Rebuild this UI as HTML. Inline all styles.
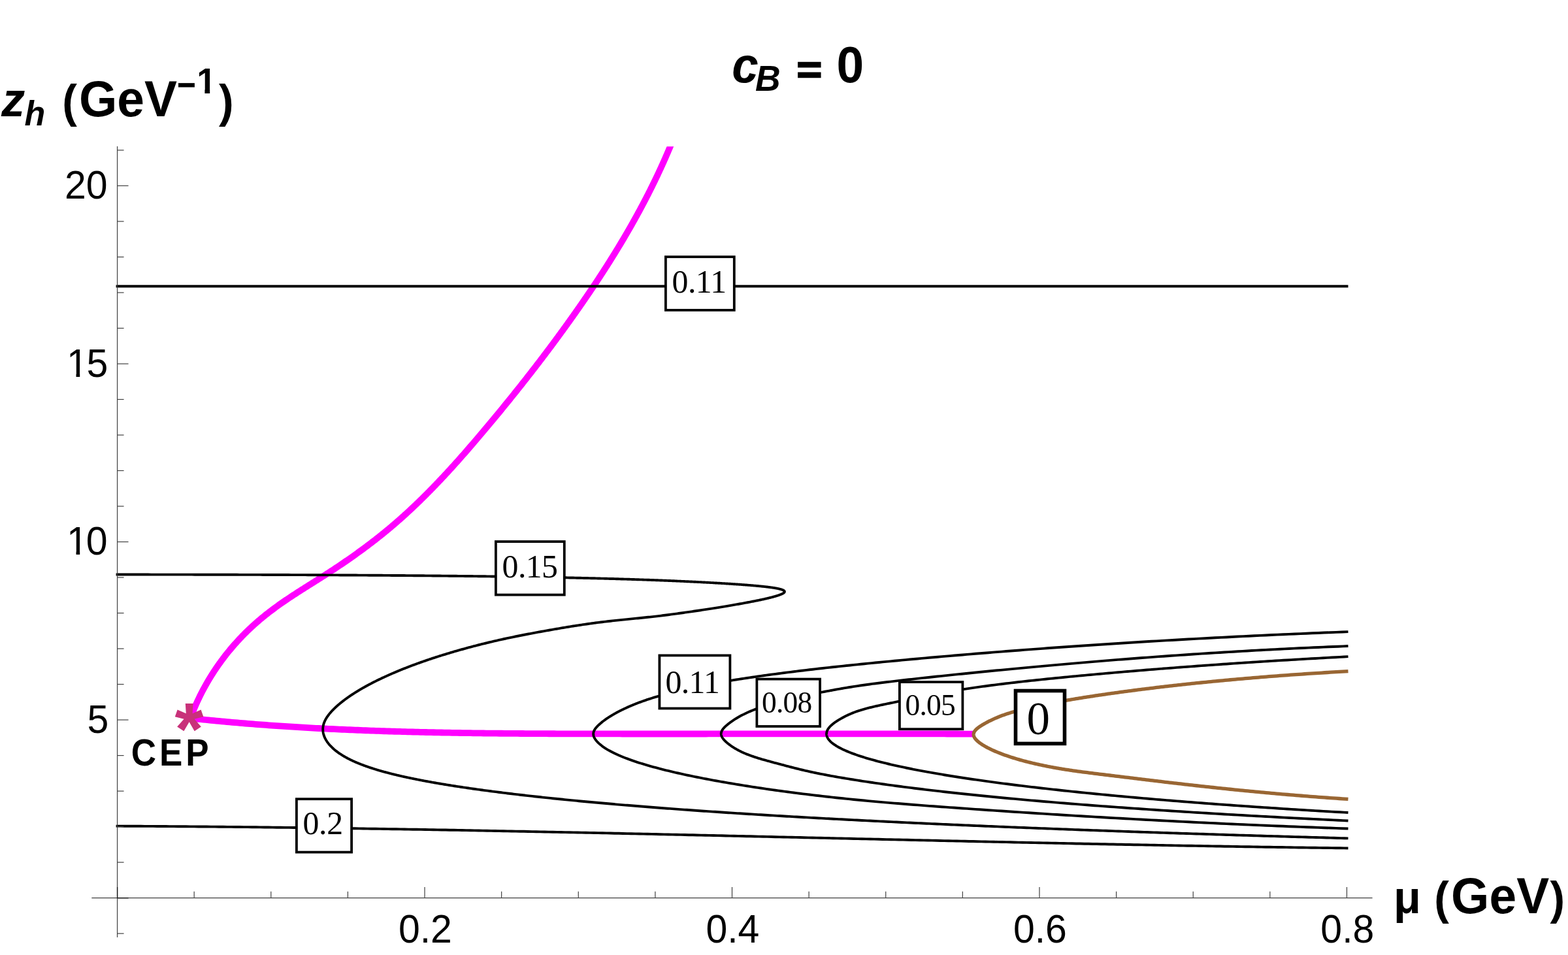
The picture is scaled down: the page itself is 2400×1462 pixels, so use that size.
<!DOCTYPE html>
<html lang="en"><head><meta charset="utf-8"><title>c_B = 0 phase diagram</title>
<style>html,body{margin:0;padding:0;background:#fff}svg{display:block}.sb{font-family:"Liberation Sans",Arial,Helvetica,sans-serif;font-weight:700}.sr{font-family:"Liberation Sans",Arial,Helvetica,sans-serif;font-weight:400}.tr{font-family:"Liberation Serif","Times New Roman",Times,serif;font-weight:400}</style></head><body>
<svg xmlns="http://www.w3.org/2000/svg" width="2400" height="1462" viewBox="0 0 2400 1462">
<rect x="0" y="0" width="2400" height="1462" fill="#fff"/>
<defs><clipPath id="plotclip"><rect x="100" y="224.2" width="2100" height="1200"/></clipPath></defs>
<path d="M291.41,1099.58 L291.87,1098.34 L292.33,1097.11 L292.80,1095.87 L293.27,1094.64 L293.75,1093.41 L294.23,1092.18 L294.72,1090.96 L295.21,1089.74 L295.70,1088.52 L296.20,1087.30 L296.70,1086.08 L297.21,1084.87 L297.72,1083.66 L298.24,1082.45 L298.76,1081.24 L299.29,1080.03 L299.82,1078.83 L300.35,1077.63 L300.89,1076.43 L301.43,1075.24 L301.98,1074.04 L302.53,1072.85 L303.09,1071.66 L303.65,1070.48 L304.21,1069.29 L304.78,1068.11 L305.36,1066.93 L305.93,1065.75 L306.52,1064.58 L307.10,1063.40 L307.69,1062.23 L308.29,1061.07 L308.88,1059.90 L309.49,1058.74 L310.09,1057.58 L310.71,1056.42 L311.32,1055.26 L311.94,1054.11 L312.56,1052.96 L313.19,1051.81 L313.82,1050.67 L314.46,1049.52 L315.10,1048.38 L315.74,1047.24 L316.39,1046.11 L317.04,1044.97 L317.70,1043.84 L318.36,1042.72 L319.02,1041.59 L319.69,1040.47 L320.36,1039.35 L321.04,1038.23 L321.72,1037.11 L322.41,1036.00 L323.09,1034.89 L323.79,1033.78 L324.48,1032.68 L325.18,1031.58 L325.89,1030.48 L326.59,1029.38 L327.31,1028.29 L328.02,1027.19 L328.74,1026.11 L329.46,1025.02 L330.19,1023.94 L330.92,1022.86 L331.66,1021.78 L332.39,1020.70 L333.14,1019.63 L333.88,1018.56 L334.63,1017.49 L335.39,1016.43 L336.14,1015.37 L336.91,1014.31 L337.67,1013.26 L338.44,1012.20 L339.21,1011.15 L339.99,1010.11 L340.77,1009.06 L341.55,1008.02 L342.34,1006.98 L343.13,1005.95 L343.92,1004.91 L344.72,1003.89 L345.52,1002.86 L346.33,1001.83 L347.14,1000.81 L347.95,999.80 L348.76,998.78 L349.58,997.77 L350.41,996.76 L351.23,995.75 L352.06,994.75 L352.90,993.75 L353.73,992.75 L354.57,991.76 L355.42,990.77 L356.27,989.78 L357.12,988.80 L357.97,987.81 L358.83,986.83 L359.69,985.86 L360.55,984.89 L361.42,983.92 L362.29,982.95 L363.17,981.99 L364.05,981.03 L364.93,980.07 L365.81,979.12 L366.70,978.17 L367.59,977.22 L368.49,976.27 L369.39,975.33 L370.29,974.39 L371.19,973.46 L372.10,972.53 L373.01,971.60 L373.93,970.67 L374.85,969.75 L375.77,968.83 L376.69,967.92 L377.62,967.01 L378.55,966.10 L379.48,965.19 L380.42,964.29 L381.36,963.39 L382.30,962.50 L383.25,961.60 L384.20,960.72 L385.15,959.83 L386.11,958.95 L387.07,958.07 L388.03,957.19 L388.99,956.32 L389.96,955.45 L390.93,954.59 L391.91,953.73 L392.88,952.87 L393.86,952.01 L394.85,951.16 L395.83,950.31 L396.82,949.47 L397.81,948.63 L398.81,947.79 L399.81,946.96 L400.81,946.13 L401.81,945.30 L402.82,944.48 L403.82,943.65 L404.84,942.84 L405.85,942.02 L406.87,941.21 L407.89,940.40 L408.91,939.60 L409.93,938.80 L410.96,938.00 L411.99,937.20 L413.02,936.41 L414.06,935.62 L415.09,934.83 L416.13,934.05 L417.17,933.26 L418.22,932.49 L419.26,931.71 L420.31,930.94 L421.36,930.16 L422.41,929.40 L423.47,928.63 L424.52,927.87 L425.58,927.11 L426.64,926.35 L427.70,925.60 L428.76,924.84 L429.83,924.09 L430.90,923.34 L431.97,922.60 L433.04,921.85 L434.11,921.11 L435.18,920.37 L436.26,919.64 L437.34,918.90 L438.42,918.17 L439.50,917.44 L440.58,916.71 L441.66,915.98 L442.75,915.26 L443.83,914.54 L444.92,913.82 L446.01,913.10 L447.10,912.38 L448.19,911.66 L449.28,910.95 L450.37,910.23 L451.47,909.52 L452.56,908.81 L453.66,908.10 L454.76,907.39 L455.85,906.69 L456.95,905.98 L458.05,905.27 L459.15,904.57 L460.25,903.87 L461.35,903.17 L462.46,902.46 L463.56,901.76 L464.66,901.06 L465.77,900.36 L466.87,899.67 L467.98,898.97 L469.08,898.27 L470.19,897.57 L471.29,896.88 L472.40,896.18 L473.51,895.48 L474.61,894.79 L475.72,894.09 L476.83,893.40 L477.94,892.70 L479.04,892.00 L480.15,891.31 L481.26,890.61 L482.36,889.92 L483.47,889.22 L484.58,888.52 L485.69,887.83 L486.79,887.13 L487.90,886.43 L489.00,885.73 L490.11,885.03 L491.21,884.33 L492.32,883.63 L493.42,882.93 L494.53,882.23 L495.63,881.53 L496.73,880.82 L497.83,880.12 L498.94,879.41 L500.04,878.70 L501.14,877.99 L502.23,877.29 L503.33,876.57 L504.43,875.86 L505.53,875.15 L506.62,874.44 L507.72,873.72 L508.81,873.00 L509.91,872.29 L511.00,871.57 L512.09,870.85 L513.18,870.13 L514.27,869.40 L515.36,868.68 L516.45,867.95 L517.54,867.23 L518.62,866.50 L519.71,865.77 L520.79,865.04 L521.88,864.31 L522.96,863.58 L524.04,862.84 L525.12,862.11 L526.20,861.37 L527.28,860.63 L528.36,859.89 L529.44,859.15 L530.52,858.41 L531.59,857.67 L532.67,856.92 L533.74,856.18 L534.81,855.43 L535.88,854.68 L536.95,853.93 L538.02,853.18 L539.09,852.43 L540.16,851.68 L541.23,850.92 L542.29,850.16 L543.36,849.41 L544.42,848.65 L545.48,847.89 L546.54,847.12 L547.60,846.36 L548.66,845.60 L549.72,844.83 L550.78,844.06 L551.83,843.29 L552.89,842.52 L553.94,841.75 L554.99,840.98 L556.04,840.20 L557.09,839.43 L558.14,838.65 L559.19,837.87 L560.24,837.09 L561.28,836.31 L562.32,835.52 L563.37,834.74 L564.41,833.95 L565.45,833.17 L566.49,832.38 L567.53,831.58 L568.56,830.79 L569.60,830.00 L570.63,829.20 L571.67,828.41 L572.70,827.61 L573.73,826.81 L574.76,826.01 L575.78,825.20 L576.81,824.40 L577.84,823.59 L578.86,822.78 L579.88,821.97 L580.90,821.16 L581.92,820.35 L582.94,819.54 L583.96,818.72 L584.97,817.90 L585.99,817.09 L587.00,816.27 L588.01,815.44 L589.02,814.62 L590.03,813.79 L591.04,812.97 L592.04,812.14 L593.05,811.31 L594.05,810.48 L595.05,809.64 L596.05,808.81 L597.05,807.97 L598.05,807.13 L599.05,806.29 L600.04,805.45 L601.03,804.61 L602.02,803.76 L603.01,802.92 L604.00,802.07 L604.99,801.22 L605.97,800.37 L606.96,799.51 L607.94,798.66 L608.92,797.80 L609.90,796.94 L610.88,796.08 L611.85,795.22 L612.83,794.36 L613.80,793.49 L614.78,792.63 L615.75,791.76 L616.72,790.89 L617.68,790.02 L618.65,789.14 L619.62,788.27 L620.58,787.39 L621.54,786.52 L622.50,785.64 L623.46,784.76 L624.42,783.88 L625.38,782.99 L626.34,782.11 L627.29,781.22 L628.24,780.34 L629.20,779.45 L630.15,778.56 L631.09,777.66 L632.04,776.77 L632.99,775.88 L633.94,774.98 L634.88,774.08 L635.82,773.18 L636.76,772.28 L637.70,771.38 L638.64,770.48 L639.58,769.58 L640.52,768.67 L641.45,767.76 L642.39,766.86 L643.32,765.95 L644.25,765.04 L645.18,764.12 L646.11,763.21 L647.04,762.30 L647.97,761.38 L648.89,760.46 L649.82,759.54 L650.74,758.62 L651.66,757.70 L652.59,756.78 L653.51,755.86 L654.42,754.93 L655.34,754.01 L656.26,753.08 L657.18,752.15 L658.09,751.22 L659.00,750.29 L659.92,749.36 L660.83,748.43 L661.74,747.49 L662.65,746.56 L663.55,745.62 L664.46,744.69 L665.37,743.75 L666.27,742.81 L667.18,741.87 L668.08,740.93 L668.98,739.98 L669.88,739.04 L670.78,738.10 L671.68,737.15 L672.58,736.20 L673.48,735.26 L674.37,734.31 L675.27,733.36 L676.16,732.41 L677.05,731.45 L677.95,730.50 L678.84,729.55 L679.73,728.59 L680.62,727.64 L681.51,726.68 L682.39,725.72 L683.28,724.77 L684.17,723.81 L685.05,722.85 L685.94,721.88 L686.82,720.92 L687.70,719.96 L688.58,719.00 L689.46,718.03 L690.34,717.07 L691.22,716.10 L692.10,715.13 L692.98,714.17 L693.85,713.20 L694.73,712.23 L695.60,711.26 L696.48,710.29 L697.35,709.31 L698.22,708.34 L699.09,707.37 L699.96,706.39 L700.83,705.42 L701.70,704.44 L702.57,703.47 L703.44,702.49 L704.31,701.51 L705.17,700.53 L706.04,699.55 L706.90,698.57 L707.77,697.59 L708.63,696.61 L709.49,695.63 L710.36,694.65 L711.22,693.67 L712.08,692.68 L712.94,691.70 L713.80,690.71 L714.66,689.73 L715.52,688.74 L716.37,687.75 L717.23,686.77 L718.09,685.78 L718.94,684.79 L719.80,683.80 L720.65,682.81 L721.50,681.82 L722.36,680.83 L723.21,679.84 L724.06,678.85 L724.91,677.86 L725.76,676.86 L726.61,675.87 L727.46,674.88 L728.31,673.88 L729.16,672.89 L730.01,671.89 L730.86,670.90 L731.70,669.90 L732.55,668.91 L733.40,667.91 L734.24,666.91 L735.09,665.92 L735.93,664.92 L736.78,663.92 L737.62,662.92 L738.46,661.92 L739.31,660.93 L740.15,659.93 L740.99,658.93 L741.83,657.93 L742.67,656.93 L743.51,655.93 L744.35,654.92 L745.19,653.92 L746.03,652.92 L746.87,651.92 L747.71,650.92 L748.55,649.92 L749.39,648.91 L750.22,647.91 L751.06,646.91 L751.90,645.90 L752.73,644.90 L753.57,643.89 L754.40,642.89 L755.24,641.88 L756.07,640.88 L756.90,639.87 L757.74,638.87 L758.57,637.86 L759.40,636.85 L760.23,635.85 L761.07,634.84 L761.90,633.83 L762.73,632.82 L763.56,631.82 L764.39,630.81 L765.22,629.80 L766.04,628.79 L766.87,627.78 L767.70,626.77 L768.53,625.76 L769.35,624.75 L770.18,623.74 L771.01,622.73 L771.83,621.72 L772.66,620.70 L773.48,619.69 L774.31,618.68 L775.13,617.67 L775.95,616.65 L776.78,615.64 L777.60,614.63 L778.42,613.61 L779.24,612.60 L780.06,611.58 L780.88,610.57 L781.70,609.55 L782.52,608.53 L783.34,607.52 L784.16,606.50 L784.98,605.48 L785.79,604.47 L786.61,603.45 L787.43,602.43 L788.24,601.41 L789.06,600.39 L789.87,599.37 L790.69,598.35 L791.50,597.34 L792.32,596.31 L793.13,595.29 L793.94,594.27 L794.75,593.25 L795.57,592.23 L796.38,591.21 L797.19,590.19 L798.00,589.16 L798.81,588.14 L799.62,587.12 L800.42,586.09 L801.23,585.07 L802.04,584.04 L802.85,583.02 L803.65,581.99 L804.46,580.97 L805.27,579.94 L806.07,578.91 L806.88,577.89 L807.68,576.86 L808.48,575.83 L809.29,574.81 L810.09,573.78 L810.89,572.75 L811.69,571.72 L812.49,570.69 L813.29,569.66 L814.09,568.63 L814.89,567.60 L815.69,566.57 L816.49,565.54 L817.29,564.50 L818.09,563.47 L818.88,562.44 L819.68,561.41 L820.48,560.37 L821.27,559.34 L822.07,558.31 L822.86,557.27 L823.65,556.24 L824.45,555.20 L825.24,554.17 L826.03,553.13 L826.82,552.09 L827.62,551.06 L828.41,550.02 L829.20,548.98 L829.99,547.94 L830.77,546.90 L831.56,545.87 L832.35,544.83 L833.14,543.79 L833.92,542.75 L834.71,541.71 L835.50,540.66 L836.28,539.62 L837.07,538.58 L837.85,537.54 L838.63,536.50 L839.42,535.45 L840.20,534.41 L840.98,533.37 L841.76,532.32 L842.54,531.28 L843.32,530.23 L844.10,529.19 L844.88,528.14 L845.66,527.10 L846.44,526.05 L847.22,525.00 L847.99,523.95 L848.77,522.91 L849.55,521.86 L850.32,520.81 L851.10,519.76 L851.87,518.71 L852.64,517.66 L853.42,516.61 L854.19,515.56 L854.96,514.51 L855.73,513.46 L856.50,512.40 L857.27,511.35 L858.04,510.30 L858.81,509.24 L859.58,508.19 L860.35,507.14 L861.11,506.08 L861.88,505.03 L862.65,503.97 L863.41,502.91 L864.18,501.86 L864.94,500.80 L865.70,499.74 L866.47,498.68 L867.23,497.63 L867.99,496.57 L868.75,495.51 L869.51,494.45 L870.27,493.39 L871.03,492.33 L871.79,491.27 L872.55,490.21 L873.31,489.14 L874.07,488.08 L874.82,487.02 L875.58,485.96 L876.33,484.89 L877.09,483.83 L877.84,482.76 L878.60,481.70 L879.35,480.63 L880.10,479.57 L880.85,478.50 L881.61,477.43 L882.36,476.37 L883.11,475.30 L883.85,474.23 L884.60,473.16 L885.35,472.09 L886.10,471.02 L886.85,469.95 L887.59,468.88 L888.34,467.81 L889.08,466.74 L889.82,465.67 L890.57,464.59 L891.31,463.52 L892.05,462.45 L892.79,461.37 L893.53,460.30 L894.27,459.22 L895.01,458.15 L895.75,457.07 L896.49,455.99 L897.23,454.92 L897.96,453.84 L898.70,452.76 L899.43,451.68 L900.17,450.60 L900.90,449.52 L901.63,448.44 L902.37,447.36 L903.10,446.28 L903.83,445.20 L904.56,444.12 L905.29,443.04 L906.01,441.95 L906.74,440.87 L907.47,439.79 L908.19,438.70 L908.92,437.62 L909.64,436.53 L910.37,435.44 L911.09,434.36 L911.81,433.27 L912.53,432.18 L913.25,431.10 L913.97,430.01 L914.69,428.92 L915.41,427.83 L916.12,426.74 L916.84,425.65 L917.56,424.55 L918.27,423.46 L918.98,422.37 L919.70,421.28 L920.41,420.18 L921.12,419.09 L921.83,417.99 L922.54,416.90 L923.25,415.80 L923.95,414.71 L924.66,413.61 L925.37,412.51 L926.07,411.41 L926.78,410.32 L927.48,409.22 L928.18,408.12 L928.88,407.02 L929.58,405.92 L930.28,404.81 L930.98,403.71 L931.68,402.61 L932.38,401.51 L933.07,400.40 L933.77,399.30 L934.46,398.19 L935.15,397.09 L935.85,395.98 L936.54,394.88 L937.23,393.77 L937.92,392.66 L938.60,391.55 L939.29,390.44 L939.98,389.33 L940.66,388.22 L941.35,387.11 L942.03,386.00 L942.71,384.89 L943.40,383.78 L944.08,382.66 L944.76,381.55 L945.43,380.44 L946.11,379.32 L946.79,378.21 L947.46,377.09 L948.14,375.97 L948.81,374.86 L949.48,373.74 L950.15,372.62 L950.82,371.50 L951.49,370.38 L952.16,369.26 L952.83,368.14 L953.50,367.02 L954.16,365.90 L954.82,364.77 L955.49,363.65 L956.15,362.53 L956.81,361.40 L957.47,360.28 L958.13,359.15 L958.79,358.02 L959.44,356.90 L960.10,355.77 L960.75,354.64 L961.40,353.51 L962.06,352.38 L962.71,351.25 L963.36,350.12 L964.01,348.99 L964.65,347.86 L965.30,346.72 L965.94,345.59 L966.59,344.46 L967.23,343.32 L967.87,342.19 L968.51,341.05 L969.15,339.91 L969.79,338.78 L970.43,337.64 L971.07,336.50 L971.70,335.36 L972.33,334.22 L972.97,333.08 L973.60,331.94 L974.23,330.80 L974.86,329.65 L975.48,328.51 L976.11,327.37 L976.74,326.22 L977.36,325.08 L977.98,323.93 L978.61,322.78 L979.23,321.64 L979.85,320.49 L980.46,319.34 L981.08,318.19 L981.70,317.04 L982.31,315.89 L982.92,314.74 L983.53,313.58 L984.14,312.43 L984.75,311.28 L985.36,310.12 L985.97,308.97 L986.57,307.81 L987.18,306.66 L987.78,305.50 L988.38,304.34 L988.98,303.18 L989.58,302.02 L990.18,300.86 L990.78,299.70 L991.37,298.54 L991.97,297.38 L992.56,296.22 L993.15,295.05 L993.74,293.89 L994.33,292.73 L994.91,291.56 L995.50,290.39 L996.08,289.23 L996.67,288.06 L997.25,286.89 L997.83,285.72 L998.41,284.55 L998.99,283.38 L999.56,282.21 L1000.14,281.04 L1000.71,279.87 L1001.28,278.69 L1001.85,277.52 L1002.42,276.34 L1002.99,275.17 L1003.56,273.99 L1004.12,272.81 L1004.69,271.64 L1005.25,270.46 L1005.81,269.28 L1006.37,268.10 L1006.93,266.92 L1007.49,265.73 L1008.04,264.55 L1008.60,263.37 L1009.15,262.18 L1009.70,261.00 L1010.25,259.81 L1010.80,258.63 L1011.34,257.44 L1011.89,256.25 L1012.43,255.07 L1012.97,253.88 L1013.51,252.69 L1014.05,251.50 L1014.59,250.30 L1015.13,249.11 L1015.66,247.92 L1016.20,246.72 L1016.73,245.53 L1017.26,244.33 L1017.79,243.14 L1018.31,241.94 L1018.84,240.74 L1019.36,239.55 L1019.89,238.35 L1020.41,237.15 L1020.93,235.94 L1021.45,234.74 L1021.96,233.54 L1022.48,232.34 L1022.99,231.13 L1023.50,229.93 L1024.01,228.72 L1024.52,227.52 L1025.03,226.31 L1025.54,225.10 L1026.04,223.89 L1026.54,222.68 L1027.04,221.47 L1027.54,220.26 L1028.04,219.05 L1028.54,217.84 L1029.03,216.62 L1029.52,215.41 L1030.02,214.19 L1030.51,212.98 L1030.99,211.76" fill="none" stroke="#ff00ff" stroke-width="9.8" stroke-linejoin="round" stroke-linecap="butt" clip-path="url(#plotclip)"/>
<path d="M291.20,1099.46 L295.21,1099.90 L299.22,1100.33 L303.22,1100.76 L307.23,1101.18 L311.24,1101.59 L315.25,1102.00 L319.25,1102.40 L323.26,1102.80 L327.27,1103.19 L331.28,1103.58 L335.28,1103.96 L339.29,1104.34 L343.30,1104.71 L347.31,1105.08 L351.32,1105.44 L355.32,1105.79 L359.33,1106.15 L363.34,1106.49 L367.35,1106.83 L371.35,1107.17 L375.36,1107.50 L379.37,1107.83 L383.38,1108.15 L387.38,1108.47 L391.39,1108.78 L395.40,1109.09 L399.41,1109.39 L403.42,1109.69 L407.42,1109.98 L411.43,1110.27 L415.44,1110.56 L419.45,1110.84 L423.45,1111.12 L427.46,1111.39 L431.47,1111.66 L435.48,1111.92 L439.48,1112.18 L443.49,1112.44 L447.50,1112.69 L451.51,1112.94 L455.52,1113.18 L459.52,1113.42 L463.53,1113.66 L467.54,1113.89 L471.55,1114.12 L475.55,1114.34 L479.56,1114.56 L483.57,1114.78 L487.58,1114.99 L491.58,1115.20 L495.59,1115.40 L499.60,1115.61 L503.61,1115.81 L507.62,1116.00 L511.62,1116.19 L515.63,1116.38 L519.64,1116.57 L523.65,1116.75 L527.65,1116.93 L531.66,1117.10 L535.67,1117.27 L539.68,1117.44 L543.68,1117.61 L547.69,1117.77 L551.70,1117.93 L555.71,1118.09 L559.72,1118.24 L563.72,1118.39 L567.73,1118.54 L571.74,1118.68 L575.75,1118.82 L579.75,1118.96 L583.76,1119.09 L587.77,1119.23 L591.78,1119.36 L595.78,1119.48 L599.79,1119.61 L603.80,1119.73 L607.81,1119.85 L611.82,1119.97 L615.82,1120.08 L619.83,1120.19 L623.84,1120.30 L627.85,1120.41 L631.85,1120.51 L635.86,1120.61 L639.87,1120.71 L643.88,1120.81 L647.88,1120.90 L651.89,1120.99 L655.90,1121.08 L659.91,1121.17 L663.92,1121.25 L667.92,1121.34 L671.93,1121.42 L675.94,1121.49 L679.95,1121.57 L683.95,1121.64 L687.96,1121.72 L691.97,1121.79 L695.98,1121.85 L699.98,1121.92 L703.99,1121.98 L708.00,1122.05 L712.01,1122.11 L716.02,1122.17 L720.02,1122.22 L724.03,1122.28 L728.04,1122.33 L732.05,1122.38 L736.05,1122.43 L740.06,1122.48 L744.07,1122.53 L748.08,1122.57 L752.08,1122.61 L756.09,1122.66 L760.10,1122.70 L764.11,1122.74 L768.12,1122.77 L772.12,1122.81 L776.13,1122.84 L780.14,1122.88 L784.15,1122.91 L788.15,1122.94 L792.16,1122.97 L796.17,1123.00 L800.18,1123.02 L804.18,1123.05 L808.19,1123.08 L812.20,1123.10 L816.21,1123.12 L820.22,1123.14 L824.22,1123.16 L828.23,1123.18 L832.24,1123.20 L836.25,1123.22 L840.25,1123.24 L844.26,1123.25 L848.27,1123.27 L852.28,1123.28 L856.28,1123.30 L860.29,1123.31 L864.30,1123.32 L868.31,1123.33 L872.32,1123.34 L876.32,1123.36 L880.33,1123.37 L884.34,1123.37 L888.35,1123.38 L892.35,1123.39 L896.36,1123.40 L900.37,1123.41 L904.38,1123.41 L908.38,1123.42 L912.39,1123.43 L916.40,1123.43 L920.41,1123.44 L924.42,1123.44 L928.42,1123.45 L932.43,1123.45 L936.44,1123.46 L940.45,1123.46 L944.45,1123.47 L948.46,1123.47 L952.47,1123.48 L956.48,1123.48 L960.48,1123.48 L964.49,1123.48 L968.50,1123.49 L972.51,1123.49 L976.52,1123.49 L980.52,1123.49 L984.53,1123.49 L988.54,1123.50 L992.55,1123.50 L996.55,1123.50 L1000.56,1123.50 L1004.57,1123.50 L1008.58,1123.50 L1012.58,1123.50 L1016.59,1123.50 L1020.60,1123.50 L1024.61,1123.50 L1028.62,1123.50 L1032.62,1123.50 L1036.63,1123.50 L1040.64,1123.49 L1044.65,1123.49 L1048.65,1123.49 L1052.66,1123.49 L1056.67,1123.49 L1060.68,1123.49 L1064.68,1123.48 L1068.69,1123.48 L1072.70,1123.48 L1076.71,1123.48 L1080.72,1123.48 L1084.72,1123.47 L1088.73,1123.47 L1092.74,1123.47 L1096.75,1123.46 L1100.75,1123.46 L1104.76,1123.46 L1108.77,1123.46 L1112.78,1123.45 L1116.78,1123.45 L1120.79,1123.45 L1124.80,1123.44 L1128.81,1123.44 L1132.82,1123.44 L1136.82,1123.43 L1140.83,1123.43 L1144.84,1123.43 L1148.85,1123.42 L1152.85,1123.42 L1156.86,1123.42 L1160.87,1123.41 L1164.88,1123.41 L1168.88,1123.41 L1172.89,1123.40 L1176.90,1123.40 L1180.91,1123.40 L1184.92,1123.39 L1188.92,1123.39 L1192.93,1123.38 L1196.94,1123.38 L1200.95,1123.38 L1204.95,1123.38 L1208.96,1123.37 L1212.97,1123.37 L1216.98,1123.37 L1220.98,1123.36 L1224.99,1123.36 L1229.00,1123.36 L1233.01,1123.35 L1237.02,1123.35 L1241.02,1123.35 L1245.03,1123.35 L1249.04,1123.34 L1253.05,1123.34 L1257.05,1123.34 L1261.06,1123.34 L1265.07,1123.34 L1269.08,1123.34 L1273.08,1123.33 L1277.09,1123.33 L1281.10,1123.33 L1285.11,1123.33 L1289.12,1123.33 L1293.12,1123.33 L1297.13,1123.33 L1301.14,1123.33 L1305.15,1123.33 L1309.15,1123.33 L1313.16,1123.33 L1317.17,1123.33 L1321.18,1123.33 L1325.18,1123.33 L1329.19,1123.33 L1333.20,1123.33 L1337.21,1123.33 L1341.22,1123.33 L1345.22,1123.34 L1349.23,1123.34 L1353.24,1123.34 L1357.25,1123.34 L1361.25,1123.35 L1365.26,1123.35 L1369.27,1123.35 L1373.28,1123.36 L1377.28,1123.36 L1381.29,1123.36 L1385.30,1123.37 L1389.31,1123.37 L1393.32,1123.38 L1397.32,1123.38 L1401.33,1123.39 L1405.34,1123.39 L1409.35,1123.40 L1413.35,1123.41 L1417.36,1123.41 L1421.37,1123.42 L1425.38,1123.43 L1429.38,1123.44 L1433.39,1123.45 L1437.40,1123.45 L1441.41,1123.46 L1445.42,1123.47 L1449.42,1123.48 L1453.43,1123.49 L1457.44,1123.50 L1461.45,1123.51 L1465.45,1123.52 L1469.46,1123.54 L1473.47,1123.55 L1477.48,1123.56 L1481.48,1123.57 L1485.49,1123.59 L1489.50,1123.60" fill="none" stroke="#ff00ff" stroke-width="9.8" stroke-linejoin="round" stroke-linecap="butt" clip-path="url(#plotclip)"/>
<path d="M177.60,438.20 L2063.50,438.20" fill="none" stroke="#000" stroke-width="3.9" stroke-linejoin="round" stroke-linecap="butt"/>
<path d="M177.60,879.53 L182.57,879.53 L187.53,879.54 L192.47,879.54 L197.41,879.55 L202.33,879.55 L207.24,879.55 L212.14,879.56 L217.02,879.56 L221.90,879.57 L226.76,879.57 L231.61,879.58 L236.45,879.59 L241.27,879.59 L246.08,879.60 L250.88,879.60 L255.67,879.61 L260.45,879.62 L265.21,879.62 L269.97,879.63 L274.71,879.64 L279.44,879.64 L284.15,879.65 L288.86,879.66 L293.55,879.67 L298.23,879.68 L302.90,879.69 L307.55,879.69 L312.20,879.70 L316.83,879.71 L321.45,879.72 L326.05,879.73 L330.65,879.74 L335.23,879.75 L339.80,879.76 L344.36,879.77 L348.91,879.78 L353.44,879.80 L357.97,879.81 L362.48,879.82 L366.97,879.83 L371.46,879.84 L375.94,879.85 L380.40,879.87 L384.85,879.88 L389.29,879.89 L393.71,879.91 L398.12,879.92 L402.53,879.93 L406.92,879.95 L411.29,879.96 L415.66,879.98 L420.01,879.99 L424.35,880.01 L428.68,880.02 L433.00,880.04 L437.30,880.05 L441.60,880.07 L445.88,880.09 L450.15,880.10 L454.40,880.12 L458.65,880.14 L462.88,880.16 L467.10,880.17 L471.31,880.19 L475.50,880.21 L479.69,880.23 L483.86,880.25 L488.02,880.27 L492.16,880.29 L496.30,880.31 L500.42,880.33 L504.53,880.35 L508.63,880.37 L512.72,880.39 L516.80,880.41 L520.86,880.43 L524.91,880.45 L528.95,880.48 L532.97,880.50 L536.99,880.52 L540.99,880.54 L544.98,880.57 L548.96,880.59 L552.93,880.62 L556.88,880.64 L560.82,880.66 L564.75,880.69 L568.67,880.71 L572.57,880.74 L576.47,880.77 L580.35,880.79 L584.22,880.82 L588.07,880.85 L591.92,880.87 L595.75,880.90 L599.57,880.93 L603.38,880.96 L607.18,880.98 L610.96,881.01 L614.74,881.04 L618.50,881.07 L622.24,881.10 L625.98,881.13 L629.70,881.16 L633.42,881.19 L637.12,881.22 L640.80,881.25 L644.48,881.29 L648.14,881.32 L651.79,881.35 L655.43,881.38 L659.06,881.42 L662.68,881.45 L666.28,881.48 L669.87,881.52 L673.45,881.55 L677.02,881.59 L680.57,881.62 L684.11,881.66 L687.64,881.69 L691.16,881.73 L694.67,881.77 L698.16,881.81 L701.64,881.84 L705.11,881.88 L708.57,881.92 L712.02,881.96 L715.45,882.00 L718.87,882.04 L722.28,882.07 L725.68,882.11 L729.06,882.16 L732.44,882.20 L735.80,882.24 L739.15,882.28 L742.48,882.32 L745.81,882.36 L749.12,882.41 L752.42,882.45 L755.71,882.49 L758.99,882.54 L762.25,882.58 L765.50,882.62 L768.74,882.67 L771.97,882.71 L775.19,882.76 L778.39,882.81 L781.58,882.85 L784.76,882.90 L787.93,882.95 L791.08,883.00 L794.23,883.04 L797.36,883.09 L800.48,883.14 L803.58,883.19 L806.68,883.24 L809.76,883.29 L812.83,883.34 L815.89,883.39 L818.94,883.44 L821.97,883.50 L824.99,883.55 L828.00,883.60 L831.00,883.65 L833.99,883.71 L836.96,883.76 L839.92,883.82 L842.87,883.87 L845.81,883.93 L848.73,883.98 L851.65,884.04 L854.55,884.09 L857.44,884.15 L860.32,884.21 L863.18,884.27 L866.03,884.32 L868.87,884.38 L871.70,884.44 L874.52,884.50 L877.32,884.56 L880.12,884.62 L882.90,884.68 L885.66,884.74 L888.42,884.81 L891.16,884.87 L893.90,884.93 L896.62,884.99 L899.32,885.06 L902.02,885.12 L904.70,885.19 L907.37,885.25 L910.03,885.32 L912.68,885.38 L915.31,885.45 L917.94,885.52 L920.55,885.58 L923.15,885.65 L925.73,885.72 L928.31,885.79 L930.87,885.86 L933.42,885.93 L935.96,886.00 L938.48,886.07 L941.00,886.14 L943.50,886.21 L945.99,886.28 L948.47,886.36 L950.93,886.43 L953.39,886.50 L955.83,886.58 L958.26,886.65 L960.67,886.73 L963.08,886.80 L965.47,886.88 L967.85,886.95 L970.22,887.03 L972.58,887.11 L974.92,887.18 L977.26,887.26 L979.58,887.34 L981.88,887.42 L984.18,887.50 L986.47,887.58 L988.74,887.66 L991.00,887.74 L993.24,887.82 L995.48,887.90 L997.70,887.98 L999.92,888.06 L1002.11,888.14 L1004.30,888.22 L1006.48,888.30 L1008.64,888.39 L1010.79,888.47 L1012.93,888.55 L1015.06,888.64 L1017.17,888.72 L1019.27,888.81 L1021.36,888.89 L1023.44,888.97 L1025.51,889.06 L1027.56,889.15 L1029.61,889.23 L1031.64,889.32 L1033.65,889.40 L1035.66,889.49 L1037.65,889.58 L1039.63,889.66 L1041.60,889.75 L1043.56,889.84 L1045.51,889.92 L1047.44,890.01 L1049.36,890.10 L1051.27,890.19 L1053.17,890.28 L1055.05,890.37 L1056.92,890.45 L1058.78,890.54 L1060.63,890.63 L1062.47,890.72 L1064.29,890.81 L1066.11,890.90 L1067.91,890.99 L1069.69,891.08 L1071.47,891.17 L1073.23,891.26 L1074.99,891.35 L1076.72,891.44 L1078.45,891.53 L1080.17,891.62 L1081.87,891.71 L1083.56,891.80 L1085.24,891.89 L1086.91,891.98 L1088.56,892.08 L1090.21,892.17 L1091.84,892.26 L1093.45,892.35 L1095.06,892.44 L1096.66,892.53 L1098.24,892.62 L1099.81,892.72 L1101.37,892.81 L1102.91,892.90 L1104.45,892.99 L1105.97,893.08 L1107.48,893.17 L1108.98,893.27 L1110.46,893.36 L1111.93,893.45 L1113.40,893.54 L1114.84,893.63 L1116.28,893.72 L1117.71,893.82 L1119.12,893.91 L1120.52,894.00 L1121.91,894.09 L1123.29,894.18 L1124.65,894.27 L1126.00,894.37 L1127.34,894.46 L1128.67,894.55 L1129.99,894.64 L1131.29,894.73 L1132.58,894.82 L1133.86,894.91 L1135.13,895.01 L1136.39,895.10 L1137.63,895.19 L1138.86,895.28 L1140.08,895.37 L1141.29,895.46 L1142.48,895.56 L1143.66,895.65 L1144.84,895.74 L1145.99,895.83 L1147.14,895.92 L1148.28,896.02 L1149.40,896.11 L1150.51,896.20 L1151.61,896.29 L1152.69,896.39 L1153.77,896.48 L1154.83,896.57 L1155.88,896.66 L1156.92,896.76 L1157.94,896.85 L1158.96,896.94 L1159.96,897.04 L1160.95,897.13 L1161.92,897.22 L1162.89,897.32 L1163.84,897.41 L1164.78,897.51 L1165.71,897.60 L1166.63,897.70 L1167.53,897.79 L1168.43,897.88 L1169.31,897.98 L1170.17,898.08 L1171.03,898.17 L1171.87,898.27 L1172.71,898.36 L1173.53,898.46 L1174.33,898.55 L1175.13,898.65 L1175.91,898.75 L1176.69,898.85 L1177.45,898.94 L1178.19,899.04 L1178.93,899.14 L1179.65,899.24 L1180.36,899.33 L1181.06,899.43 L1181.75,899.53 L1182.42,899.63 L1183.09,899.73 L1183.74,899.83 L1184.37,899.93 L1185.00,900.03 L1185.61,900.13 L1186.22,900.23 L1186.81,900.33 L1187.38,900.44 L1187.95,900.54 L1188.50,900.64 L1189.05,900.74 L1189.58,900.85 L1190.09,900.95 L1190.60,901.05 L1191.09,901.16 L1191.57,901.26 L1192.04,901.37 L1192.50,901.47 L1192.94,901.58 L1193.38,901.68 L1193.80,901.79 L1194.21,901.90 L1194.60,902.00 L1194.99,902.11 L1195.36,902.22 L1195.72,902.33 L1196.07,902.44 L1196.40,902.55 L1196.73,902.66 L1197.04,902.77 L1197.34,902.88 L1197.63,902.99 L1197.90,903.10 L1198.16,903.21 L1198.42,903.33 L1198.65,903.44 L1198.88,903.55 L1199.10,903.67 L1199.30,903.78 L1199.49,903.90 L1199.67,904.01 L1199.84,904.13 L1199.99,904.25 L1200.13,904.37 L1200.26,904.48 L1200.38,904.60 L1200.49,904.72 L1200.58,904.84 L1200.66,904.96 L1200.73,905.09 L1200.79,905.21 L1200.84,905.33 L1200.87,905.46 L1200.89,905.58 L1200.90,905.70 L1200.90,905.83 L1200.88,905.96 L1200.85,906.08 L1200.82,906.21 L1200.76,906.34 L1200.70,906.47 L1200.63,906.60 L1200.54,906.73 L1200.44,906.86 L1200.33,907.00 L1200.20,907.13 L1200.07,907.26 L1199.92,907.40 L1199.76,907.53 L1199.59,907.67 L1199.40,907.81 L1199.21,907.95 L1199.00,908.09 L1198.78,908.23 L1198.54,908.37 L1198.30,908.51 L1198.04,908.65 L1197.77,908.80 L1197.49,908.94 L1197.20,909.09 L1196.89,909.23 L1196.58,909.38 L1196.25,909.53 L1195.90,909.68 L1195.55,909.83 L1195.18,909.98 L1194.81,910.13 L1194.42,910.29 L1194.01,910.44 L1193.60,910.60 L1193.17,910.76 L1192.74,910.91 L1192.28,911.07 L1191.82,911.23 L1191.35,911.39 L1190.86,911.55 L1190.36,911.72 L1189.85,911.88 L1189.33,912.05 L1188.79,912.21 L1188.24,912.38 L1187.68,912.55 L1187.11,912.72 L1186.53,912.89 L1185.93,913.06 L1185.33,913.23 L1184.71,913.40 L1184.07,913.58 L1183.43,913.75 L1182.77,913.93 L1182.11,914.11 L1181.42,914.28 L1180.73,914.46 L1180.03,914.64 L1179.31,914.82 L1178.58,915.01 L1177.84,915.19 L1177.09,915.37 L1176.32,915.56 L1175.55,915.75 L1174.76,915.93 L1173.95,916.12 L1173.14,916.31 L1172.32,916.50 L1171.48,916.70 L1170.63,916.89 L1169.77,917.08 L1168.89,917.28 L1168.01,917.47 L1167.11,917.67 L1166.20,917.87 L1165.27,918.07 L1164.34,918.27 L1163.39,918.47 L1162.43,918.67 L1161.46,918.87 L1160.48,919.08 L1159.49,919.28 L1158.48,919.49 L1157.46,919.69 L1156.43,919.90 L1155.38,920.11 L1154.33,920.32 L1153.26,920.53 L1152.18,920.74 L1151.09,920.96 L1149.99,921.17 L1148.87,921.39 L1147.74,921.60 L1146.60,921.82 L1145.45,922.04 L1144.28,922.26 L1143.11,922.48 L1141.92,922.70 L1140.72,922.92 L1139.50,923.15 L1138.28,923.37 L1137.04,923.60 L1135.79,923.82 L1134.53,924.05 L1133.26,924.28 L1131.97,924.51 L1130.68,924.74 L1129.37,924.97 L1128.04,925.20 L1126.71,925.44 L1125.36,925.67 L1124.01,925.91 L1122.64,926.14 L1121.25,926.38 L1119.86,926.62 L1118.45,926.86 L1117.03,927.10 L1115.60,927.34 L1114.16,927.58 L1112.71,927.83 L1111.24,928.07 L1109.76,928.32 L1108.27,928.56 L1106.77,928.81 L1105.25,929.06 L1103.72,929.31 L1102.18,929.56 L1100.63,929.81 L1099.07,930.06 L1097.49,930.32 L1095.90,930.57 L1094.30,930.82 L1092.69,931.08 L1091.07,931.33 L1089.43,931.59 L1087.78,931.85 L1086.12,932.11 L1084.45,932.37 L1082.76,932.63 L1081.07,932.89 L1079.36,933.15 L1077.64,933.41 L1075.90,933.67 L1074.16,933.93 L1072.40,934.20 L1070.63,934.46 L1068.85,934.73 L1067.06,934.99 L1065.25,935.26 L1063.43,935.53 L1061.60,935.79 L1059.76,936.06 L1057.91,936.33 L1056.04,936.60 L1054.16,936.87 L1052.27,937.14 L1050.37,937.41 L1048.45,937.68 L1046.53,937.95 L1044.59,938.22 L1042.64,938.50 L1040.67,938.77 L1038.70,939.04 L1036.71,939.32 L1034.71,939.59 L1032.70,939.86 L1030.68,940.14 L1028.64,940.41 L1026.59,940.68 L1024.53,940.96 L1022.46,941.23 L1020.38,941.50 L1018.28,941.76 L1016.17,942.03 L1014.05,942.29 L1011.92,942.56 L1009.78,942.82 L1007.62,943.08 L1005.45,943.33 L1003.27,943.59 L1001.08,943.84 L998.87,944.08 L996.65,944.33 L994.43,944.57 L992.18,944.81 L989.93,945.05 L987.67,945.28 L985.39,945.52 L983.10,945.75 L980.80,945.99 L978.48,946.22 L976.16,946.45 L973.82,946.68 L971.47,946.92 L969.10,947.15 L966.73,947.39 L964.34,947.62 L961.95,947.86 L959.53,948.10 L957.11,948.35 L954.68,948.59 L952.23,948.84 L949.77,949.09 L947.30,949.35 L944.82,949.61 L942.32,949.88 L939.81,950.15 L937.29,950.42 L934.76,950.70 L932.22,950.99 L929.66,951.28 L927.09,951.58 L924.51,951.88 L921.92,952.20 L919.32,952.52 L916.70,952.84 L914.07,953.18 L911.43,953.52 L908.78,953.87 L906.11,954.23 L903.44,954.60 L900.75,954.98 L897.47,955.45 L894.94,955.81 L892.41,956.19 L889.87,956.57 L887.34,956.95 L884.81,957.34 L882.28,957.73 L879.75,958.13 L877.22,958.53 L874.68,958.93 L872.15,959.34 L869.62,959.76 L867.09,960.17 L864.56,960.59 L862.03,961.02 L859.49,961.44 L856.96,961.87 L854.43,962.30 L851.90,962.74 L849.37,963.18 L846.84,963.62 L844.30,964.06 L841.77,964.51 L839.24,964.96 L836.71,965.41 L834.18,965.86 L831.65,966.32 L829.11,966.77 L826.58,967.24 L824.05,967.70 L821.52,968.17 L818.99,968.63 L816.46,969.11 L813.92,969.58 L811.39,970.06 L808.86,970.54 L806.33,971.02 L803.80,971.51 L801.27,972.00 L798.73,972.50 L796.20,973.00 L793.67,973.51 L791.14,974.02 L788.61,974.53 L786.08,975.05 L783.54,975.58 L781.01,976.11 L778.48,976.64 L775.95,977.18 L773.42,977.73 L770.89,978.28 L768.35,978.84 L765.82,979.40 L763.29,979.97 L760.76,980.54 L758.23,981.12 L755.70,981.71 L753.16,982.30 L750.63,982.90 L748.10,983.51 L745.57,984.12 L743.04,984.73 L740.51,985.36 L737.97,985.98 L735.44,986.62 L732.91,987.26 L730.38,987.91 L727.85,988.56 L725.32,989.22 L722.78,989.88 L720.25,990.55 L717.72,991.23 L715.19,991.91 L712.66,992.60 L710.13,993.30 L707.59,994.00 L705.06,994.71 L702.53,995.42 L699.34,996.33 L697.36,996.90 L695.38,997.47 L693.42,998.04 L691.47,998.62 L689.53,999.19 L687.59,999.77 L685.67,1000.35 L683.76,1000.93 L681.85,1001.51 L679.96,1002.09 L678.07,1002.67 L676.20,1003.25 L674.33,1003.84 L672.48,1004.42 L670.63,1005.01 L668.79,1005.60 L666.96,1006.19 L665.15,1006.78 L663.34,1007.37 L661.54,1007.96 L659.75,1008.56 L657.97,1009.15 L656.20,1009.75 L654.44,1010.34 L652.69,1010.94 L650.95,1011.54 L649.22,1012.14 L647.50,1012.74 L645.79,1013.34 L644.08,1013.94 L642.39,1014.54 L640.71,1015.15 L639.04,1015.75 L637.37,1016.36 L635.72,1016.96 L634.07,1017.57 L632.44,1018.18 L630.81,1018.79 L629.20,1019.40 L627.59,1020.00 L625.99,1020.61 L624.41,1021.23 L622.83,1021.84 L621.26,1022.45 L619.70,1023.06 L618.15,1023.67 L616.62,1024.29 L615.09,1024.90 L613.57,1025.52 L612.06,1026.13 L610.56,1026.75 L609.07,1027.37 L607.58,1027.98 L606.11,1028.60 L604.65,1029.22 L603.20,1029.83 L601.76,1030.45 L600.32,1031.07 L598.90,1031.69 L597.48,1032.31 L596.08,1032.93 L594.69,1033.55 L593.30,1034.17 L591.93,1034.79 L590.56,1035.41 L589.20,1036.03 L587.86,1036.65 L586.52,1037.27 L585.19,1037.89 L583.87,1038.51 L582.57,1039.14 L581.27,1039.76 L579.98,1040.38 L578.70,1041.00 L577.43,1041.62 L576.17,1042.24 L574.92,1042.87 L573.68,1043.49 L572.45,1044.11 L571.22,1044.73 L570.01,1045.35 L568.81,1045.97 L567.62,1046.60 L566.43,1047.22 L565.26,1047.84 L564.10,1048.46 L562.94,1049.08 L561.80,1049.70 L560.66,1050.32 L559.54,1050.94 L558.42,1051.56 L557.31,1052.18 L556.22,1052.80 L555.13,1053.42 L554.05,1054.04 L552.98,1054.66 L551.93,1055.27 L550.88,1055.89 L549.84,1056.51 L548.81,1057.13 L547.79,1057.74 L546.78,1058.36 L545.78,1058.97 L544.79,1059.59 L543.81,1060.20 L542.83,1060.82 L541.87,1061.43 L540.92,1062.04 L539.98,1062.65 L539.04,1063.26 L538.12,1063.87 L537.21,1064.48 L536.30,1065.09 L535.41,1065.70 L534.52,1066.31 L533.65,1066.91 L532.78,1067.52 L531.92,1068.12 L531.08,1068.73 L530.24,1069.33 L529.41,1069.93 L528.59,1070.53 L527.79,1071.13 L526.99,1071.73 L526.20,1072.33 L525.42,1072.92 L524.65,1073.52 L523.89,1074.11 L523.14,1074.70 L522.40,1075.29 L521.66,1075.88 L520.94,1076.47 L520.23,1077.06 L519.53,1077.65 L518.83,1078.23 L518.15,1078.81 L517.48,1079.40 L516.81,1079.98 L516.16,1080.56 L515.51,1081.13 L514.88,1081.71 L514.25,1082.28 L513.64,1082.86 L513.03,1083.43 L512.43,1084.00 L511.85,1084.56 L511.27,1085.13 L510.70,1085.69 L510.14,1086.26 L509.59,1086.82 L509.05,1087.38 L508.52,1087.93 L508.00,1088.49 L507.49,1089.04 L506.99,1089.59 L506.50,1090.14 L506.02,1090.69 L505.55,1091.24 L505.09,1091.78 L504.63,1092.32 L504.19,1092.86 L503.76,1093.40 L503.33,1093.94 L502.92,1094.47 L502.51,1095.01 L502.12,1095.54 L501.73,1096.07 L501.36,1096.60 L500.99,1097.13 L500.64,1097.66 L500.29,1098.18 L499.95,1098.71 L499.62,1099.23 L499.31,1099.75 L499.00,1100.28 L498.70,1100.80 L498.41,1101.32 L498.13,1101.83 L497.86,1102.35 L497.60,1102.87 L497.35,1103.39 L497.11,1103.90 L496.88,1104.42 L496.65,1104.93 L496.44,1105.44 L496.24,1105.96 L496.04,1106.47 L495.86,1106.98 L495.69,1107.49 L495.52,1108.01 L495.37,1108.52 L495.22,1109.03 L495.09,1109.54 L494.96,1110.05 L494.85,1110.56 L494.74,1111.07 L494.64,1111.58 L494.55,1112.09 L494.48,1112.60 L494.41,1113.11 L494.35,1113.63 L494.30,1114.14 L494.26,1114.65 L494.23,1115.16 L494.21,1115.67 L494.20,1116.19 L494.20,1116.70 L494.21,1117.21 L494.23,1117.73 L494.26,1118.24 L494.29,1118.76 L494.34,1119.27 L494.40,1119.79 L494.46,1120.31 L494.54,1120.82 L494.63,1121.34 L494.72,1121.86 L494.83,1122.38 L494.94,1122.89 L495.06,1123.41 L495.20,1123.93 L495.34,1124.45 L495.49,1124.97 L495.66,1125.48 L495.83,1126.00 L496.01,1126.52 L496.20,1127.04 L496.40,1127.56 L496.61,1128.08 L496.83,1128.59 L497.06,1129.11 L497.30,1129.63 L497.55,1130.15 L497.81,1130.67 L498.08,1131.18 L498.36,1131.70 L498.64,1132.22 L498.94,1132.73 L499.25,1133.25 L499.56,1133.76 L499.89,1134.28 L500.23,1134.79 L500.57,1135.31 L500.93,1135.82 L501.29,1136.34 L501.66,1136.85 L502.05,1137.36 L502.44,1137.87 L502.84,1138.38 L503.26,1138.89 L503.68,1139.40 L504.11,1139.91 L504.55,1140.42 L505.00,1140.93 L505.46,1141.44 L505.93,1141.94 L506.41,1142.45 L506.90,1142.95 L507.40,1143.45 L507.91,1143.96 L508.43,1144.46 L508.96,1144.96 L509.49,1145.46 L510.04,1145.96 L510.60,1146.45 L511.16,1146.95 L511.74,1147.44 L512.32,1147.94 L512.92,1148.43 L513.52,1148.92 L514.14,1149.41 L514.76,1149.90 L515.40,1150.39 L516.04,1150.87 L516.69,1151.36 L517.35,1151.84 L518.03,1152.33 L518.71,1152.81 L519.40,1153.29 L520.10,1153.76 L520.81,1154.24 L521.53,1154.72 L522.26,1155.19 L523.00,1155.66 L523.75,1156.13 L524.51,1156.60 L525.27,1157.07 L526.05,1157.53 L526.84,1157.99 L527.64,1158.45 L528.44,1158.91 L529.26,1159.37 L530.09,1159.83 L530.92,1160.28 L531.77,1160.74 L532.62,1161.19 L533.48,1161.63 L534.36,1162.08 L535.24,1162.53 L536.14,1162.97 L537.04,1163.41 L537.95,1163.85 L538.87,1164.29 L539.80,1164.72 L540.74,1165.15 L541.70,1165.59 L542.66,1166.02 L543.63,1166.44 L544.61,1166.87 L545.59,1167.30 L546.59,1167.72 L547.60,1168.14 L548.62,1168.56 L549.65,1168.98 L550.69,1169.39 L551.73,1169.81 L552.79,1170.22 L553.85,1170.63 L554.93,1171.04 L556.02,1171.45 L557.11,1171.86 L558.22,1172.26 L559.33,1172.66 L560.45,1173.06 L561.59,1173.46 L562.73,1173.86 L563.88,1174.26 L565.04,1174.65 L566.22,1175.05 L567.40,1175.44 L568.59,1175.83 L569.79,1176.22 L571.00,1176.61 L572.22,1176.99 L573.45,1177.38 L574.69,1177.76 L575.94,1178.14 L577.20,1178.52 L578.46,1178.90 L579.74,1179.28 L581.03,1179.65 L582.33,1180.03 L583.63,1180.40 L584.95,1180.77 L586.27,1181.15 L587.61,1181.51 L588.95,1181.88 L590.31,1182.25 L591.67,1182.61 L593.05,1182.98 L594.43,1183.34 L595.82,1183.70 L597.22,1184.06 L598.64,1184.42 L600.06,1184.78 L601.49,1185.14 L602.93,1185.49 L604.38,1185.85 L605.84,1186.20 L607.31,1186.55 L608.79,1186.90 L610.28,1187.25 L611.78,1187.60 L613.29,1187.95 L614.81,1188.29 L616.33,1188.64 L617.87,1188.98 L619.42,1189.32 L620.97,1189.67 L622.54,1190.01 L624.11,1190.35 L625.70,1190.68 L627.29,1191.02 L628.90,1191.36 L630.51,1191.69 L632.14,1192.03 L633.77,1192.36 L635.41,1192.69 L637.07,1193.03 L638.73,1193.36 L640.40,1193.69 L642.08,1194.02 L643.77,1194.34 L645.47,1194.67 L647.18,1195.00 L648.90,1195.32 L650.63,1195.65 L652.37,1195.97 L654.12,1196.29 L655.88,1196.61 L657.65,1196.94 L659.42,1197.26 L661.21,1197.58 L663.01,1197.89 L664.81,1198.21 L666.63,1198.53 L668.45,1198.85 L670.29,1199.16 L672.13,1199.48 L673.99,1199.79 L675.85,1200.11 L677.73,1200.42 L679.61,1200.73 L681.50,1201.04 L683.40,1201.35 L685.32,1201.66 L687.24,1201.97 L689.17,1202.28 L691.11,1202.59 L693.06,1202.90 L695.02,1203.21 L696.99,1203.51 L698.97,1203.82 L700.96,1204.12 L702.96,1204.43 L704.97,1204.73 L706.98,1205.04 L709.01,1205.34 L711.05,1205.64 L713.09,1205.94 L715.15,1206.25 L717.22,1206.55 L719.29,1206.85 L721.38,1207.15 L723.47,1207.45 L725.58,1207.74 L727.69,1208.04 L729.81,1208.34 L731.95,1208.63 L734.09,1208.93 L736.24,1209.23 L738.40,1209.52 L740.57,1209.82 L742.76,1210.11 L744.95,1210.40 L747.15,1210.69 L749.36,1210.99 L751.58,1211.28 L753.81,1211.57 L756.04,1211.86 L758.29,1212.15 L760.55,1212.44 L762.82,1212.73 L765.10,1213.01 L767.38,1213.30 L769.68,1213.59 L771.99,1213.88 L774.30,1214.16 L776.63,1214.45 L778.96,1214.73 L781.31,1215.01 L783.66,1215.30 L786.02,1215.58 L788.40,1215.86 L790.78,1216.14 L793.17,1216.43 L795.58,1216.71 L797.99,1216.99 L800.41,1217.27 L802.84,1217.55 L805.28,1217.82 L807.73,1218.10 L810.19,1218.38 L812.66,1218.66 L815.14,1218.93 L817.63,1219.21 L820.13,1219.48 L822.64,1219.76 L825.15,1220.03 L827.68,1220.31 L830.22,1220.58 L832.76,1220.85 L835.32,1221.12 L837.89,1221.39 L840.46,1221.66 L843.05,1221.93 L845.64,1222.20 L848.24,1222.47 L850.86,1222.74 L853.48,1223.01 L856.11,1223.28 L858.76,1223.55 L861.41,1223.81 L864.07,1224.08 L866.74,1224.34 L869.42,1224.61 L872.11,1224.87 L874.81,1225.14 L877.52,1225.40 L880.24,1225.66 L882.97,1225.93 L885.71,1226.19 L888.46,1226.45 L891.22,1226.71 L893.99,1226.97 L896.76,1227.23 L899.55,1227.49 L902.35,1227.75 L905.15,1228.01 L907.97,1228.26 L910.79,1228.52 L913.63,1228.78 L916.47,1229.03 L919.33,1229.29 L922.19,1229.54 L925.06,1229.80 L927.95,1230.05 L930.84,1230.31 L933.74,1230.56 L936.65,1230.81 L939.57,1231.06 L942.51,1231.32 L945.45,1231.57 L948.40,1231.82 L951.36,1232.07 L954.33,1232.32 L957.30,1232.57 L960.29,1232.81 L963.29,1233.06 L966.30,1233.31 L969.32,1233.56 L972.34,1233.80 L975.38,1234.05 L978.43,1234.30 L981.48,1234.54 L984.55,1234.79 L987.62,1235.03 L990.71,1235.27 L993.80,1235.52 L996.91,1235.76 L1000.02,1236.00 L1003.14,1236.24 L1006.28,1236.49 L1009.42,1236.73 L1012.57,1236.97 L1015.73,1237.21 L1018.90,1237.45 L1022.08,1237.69 L1025.28,1237.92 L1028.48,1238.16 L1031.68,1238.40 L1034.90,1238.64 L1038.13,1238.87 L1041.37,1239.11 L1044.62,1239.34 L1047.88,1239.58 L1051.15,1239.81 L1054.42,1240.05 L1057.71,1240.28 L1061.01,1240.52 L1064.31,1240.75 L1067.63,1240.98 L1070.95,1241.21 L1074.29,1241.44 L1077.63,1241.68 L1080.98,1241.91 L1084.35,1242.14 L1087.72,1242.37 L1091.10,1242.60 L1094.50,1242.82 L1097.90,1243.05 L1101.31,1243.28 L1104.73,1243.51 L1108.16,1243.74 L1111.60,1243.96 L1115.05,1244.19 L1118.51,1244.41 L1121.98,1244.64 L1125.46,1244.86 L1128.95,1245.09 L1132.45,1245.31 L1135.95,1245.53 L1139.47,1245.76 L1143.00,1245.98 L1146.54,1246.20 L1150.08,1246.42 L1153.64,1246.65 L1157.20,1246.87 L1160.78,1247.09 L1164.36,1247.31 L1167.96,1247.53 L1171.56,1247.74 L1175.17,1247.96 L1178.80,1248.18 L1182.43,1248.40 L1186.07,1248.62 L1189.72,1248.83 L1193.39,1249.05 L1197.06,1249.27 L1200.74,1249.48 L1204.43,1249.70 L1208.13,1249.91 L1211.84,1250.13 L1215.56,1250.34 L1219.29,1250.55 L1223.02,1250.77 L1226.77,1250.98 L1230.53,1251.19 L1234.30,1251.40 L1238.07,1251.61 L1241.86,1251.83 L1245.66,1252.04 L1249.46,1252.25 L1253.28,1252.46 L1257.10,1252.66 L1260.94,1252.87 L1264.78,1253.08 L1268.64,1253.29 L1272.50,1253.50 L1276.37,1253.70 L1280.25,1253.91 L1284.15,1254.12 L1288.05,1254.32 L1291.96,1254.53 L1295.88,1254.73 L1299.81,1254.94 L1303.75,1255.14 L1307.70,1255.35 L1311.66,1255.55 L1315.63,1255.75 L1319.61,1255.96 L1323.60,1256.16 L1327.60,1256.36 L1331.60,1256.56 L1335.62,1256.76 L1339.65,1256.97 L1343.68,1257.17 L1347.73,1257.37 L1351.79,1257.57 L1355.85,1257.76 L1359.93,1257.96 L1364.01,1258.16 L1368.10,1258.36 L1372.21,1258.56 L1376.32,1258.75 L1380.44,1258.95 L1384.58,1259.15 L1388.72,1259.34 L1392.87,1259.54 L1397.03,1259.74 L1401.20,1259.93 L1405.38,1260.12 L1409.57,1260.32 L1413.77,1260.51 L1417.98,1260.71 L1422.20,1260.90 L1426.43,1261.09 L1430.67,1261.28 L1434.92,1261.48 L1439.17,1261.67 L1443.44,1261.86 L1447.72,1262.05 L1452.01,1262.24 L1456.30,1262.43 L1460.61,1262.62 L1464.92,1262.81 L1469.25,1263.00 L1473.58,1263.19 L1477.93,1263.37 L1482.28,1263.56 L1486.64,1263.75 L1491.01,1263.94 L1495.40,1264.12 L1499.79,1264.31 L1504.19,1264.50 L1508.60,1264.68 L1513.02,1264.87 L1517.45,1265.05 L1521.89,1265.24 L1526.34,1265.42 L1530.80,1265.60 L1535.27,1265.79 L1539.75,1265.97 L1544.24,1266.15 L1548.74,1266.34 L1553.24,1266.52 L1557.76,1266.70 L1562.29,1266.88 L1566.82,1267.06 L1571.37,1267.24 L1575.93,1267.42 L1580.49,1267.60 L1585.07,1267.78 L1589.65,1267.96 L1594.24,1268.14 L1598.85,1268.32 L1603.46,1268.50 L1608.08,1268.67 L1612.72,1268.85 L1617.36,1269.03 L1622.01,1269.21 L1626.67,1269.38 L1631.34,1269.56 L1636.02,1269.73 L1640.71,1269.91 L1645.41,1270.09 L1650.12,1270.26 L1654.84,1270.43 L1659.57,1270.61 L1664.31,1270.78 L1669.05,1270.96 L1673.81,1271.13 L1678.58,1271.30 L1683.36,1271.47 L1688.14,1271.65 L1692.94,1271.82 L1697.74,1271.99 L1702.56,1272.16 L1707.38,1272.33 L1712.22,1272.50 L1717.06,1272.67 L1721.91,1272.84 L1726.78,1273.01 L1731.65,1273.18 L1736.53,1273.35 L1741.42,1273.52 L1746.33,1273.69 L1751.24,1273.85 L1756.16,1274.02 L1761.09,1274.19 L1766.03,1274.36 L1770.98,1274.52 L1775.94,1274.69 L1780.91,1274.86 L1785.89,1275.02 L1790.87,1275.19 L1795.87,1275.35 L1800.88,1275.52 L1805.90,1275.68 L1810.92,1275.85 L1815.96,1276.01 L1821.00,1276.17 L1826.06,1276.34 L1831.12,1276.50 L1836.20,1276.66 L1841.28,1276.82 L1846.38,1276.99 L1851.48,1277.15 L1856.59,1277.31 L1861.72,1277.47 L1866.85,1277.63 L1871.99,1277.79 L1877.14,1277.95 L1882.30,1278.11 L1887.47,1278.27 L1892.65,1278.43 L1897.84,1278.59 L1903.04,1278.75 L1908.25,1278.91 L1913.47,1279.07 L1918.70,1279.22 L1923.94,1279.38 L1929.19,1279.54 L1934.44,1279.70 L1939.71,1279.85 L1944.99,1280.01 L1950.27,1280.17 L1955.57,1280.32 L1960.87,1280.48 L1966.19,1280.63 L1971.51,1280.79 L1976.85,1280.94 L1982.19,1281.10 L1987.54,1281.25 L1992.91,1281.41 L1998.28,1281.56 L2003.66,1281.71 L2009.05,1281.87 L2014.45,1282.02 L2019.87,1282.17 L2025.29,1282.32 L2030.72,1282.48 L2036.16,1282.63 L2041.61,1282.78 L2047.07,1282.93 L2052.53,1283.08 L2058.01,1283.23 L2063.50,1283.38" fill="none" stroke="#000" stroke-width="3.9" stroke-linejoin="round" stroke-linecap="butt"/>
<path d="M177.60,1264.62 L183.91,1264.65 L190.21,1264.68 L196.52,1264.71 L202.83,1264.74 L209.14,1264.77 L215.44,1264.81 L221.75,1264.85 L228.06,1264.88 L234.37,1264.92 L240.67,1264.96 L246.98,1265.01 L253.29,1265.05 L259.60,1265.09 L265.90,1265.14 L272.21,1265.19 L278.52,1265.24 L284.83,1265.29 L291.13,1265.34 L297.44,1265.39 L303.75,1265.44 L310.05,1265.50 L316.36,1265.55 L322.67,1265.61 L328.98,1265.67 L335.28,1265.73 L341.59,1265.79 L347.90,1265.85 L354.21,1265.91 L360.51,1265.98 L366.82,1266.04 L373.13,1266.11 L379.44,1266.17 L385.74,1266.24 L392.05,1266.31 L398.36,1266.38 L404.66,1266.46 L410.97,1266.53 L417.28,1266.60 L423.59,1266.68 L429.89,1266.75 L436.20,1266.83 L442.51,1266.91 L448.82,1266.99 L455.12,1267.07 L461.43,1267.15 L467.74,1267.23 L474.05,1267.31 L480.35,1267.40 L486.66,1267.48 L492.97,1267.57 L499.28,1267.66 L505.58,1267.75 L511.89,1267.83 L518.20,1267.92 L524.50,1268.02 L530.81,1268.11 L537.12,1268.20 L543.43,1268.29 L549.73,1268.39 L556.04,1268.48 L562.35,1268.58 L568.66,1268.68 L574.96,1268.78 L581.27,1268.88 L587.58,1268.98 L593.89,1269.08 L600.19,1269.18 L606.50,1269.28 L612.81,1269.38 L619.12,1269.49 L625.42,1269.59 L631.73,1269.70 L638.04,1269.80 L644.34,1269.91 L650.65,1270.02 L656.96,1270.13 L663.27,1270.24 L669.57,1270.35 L675.88,1270.46 L682.19,1270.57 L688.50,1270.68 L694.80,1270.80 L701.11,1270.91 L707.42,1271.03 L713.73,1271.14 L720.03,1271.26 L726.34,1271.37 L732.65,1271.49 L738.95,1271.61 L745.26,1271.73 L751.57,1271.85 L757.88,1271.97 L764.18,1272.09 L770.49,1272.21 L776.80,1272.33 L783.11,1272.45 L789.41,1272.58 L795.72,1272.70 L802.03,1272.82 L808.34,1272.95 L814.64,1273.08 L820.95,1273.20 L827.26,1273.33 L833.57,1273.45 L839.87,1273.58 L846.18,1273.71 L852.49,1273.84 L858.79,1273.97 L865.10,1274.10 L871.41,1274.23 L877.72,1274.36 L884.02,1274.49 L890.33,1274.62 L896.64,1274.75 L902.95,1274.89 L909.25,1275.02 L915.56,1275.15 L921.87,1275.29 L928.18,1275.42 L934.48,1275.55 L940.79,1275.69 L947.10,1275.82 L953.41,1275.96 L959.71,1276.10 L966.02,1276.23 L972.33,1276.37 L978.63,1276.51 L984.94,1276.65 L991.25,1276.78 L997.56,1276.92 L1003.86,1277.06 L1010.17,1277.20 L1016.48,1277.34 L1022.79,1277.48 L1029.09,1277.62 L1035.40,1277.76 L1041.71,1277.90 L1048.02,1278.04 L1054.32,1278.18 L1060.63,1278.32 L1066.94,1278.46 L1073.24,1278.60 L1079.55,1278.75 L1085.86,1278.89 L1092.17,1279.03 L1098.47,1279.17 L1104.78,1279.32 L1111.09,1279.46 L1117.40,1279.60 L1123.70,1279.74 L1130.01,1279.89 L1136.32,1280.03 L1142.63,1280.18 L1148.93,1280.32 L1155.24,1280.46 L1161.55,1280.61 L1167.86,1280.75 L1174.16,1280.90 L1180.47,1281.04 L1186.78,1281.18 L1193.08,1281.33 L1199.39,1281.47 L1205.70,1281.62 L1212.01,1281.76 L1218.31,1281.91 L1224.62,1282.05 L1230.93,1282.20 L1237.24,1282.34 L1243.54,1282.49 L1249.85,1282.63 L1256.16,1282.78 L1262.47,1282.92 L1268.77,1283.07 L1275.08,1283.21 L1281.39,1283.36 L1287.69,1283.50 L1294.00,1283.65 L1300.31,1283.79 L1306.62,1283.94 L1312.92,1284.08 L1319.23,1284.23 L1325.54,1284.37 L1331.85,1284.51 L1338.15,1284.66 L1344.46,1284.80 L1350.77,1284.95 L1357.08,1285.09 L1363.38,1285.23 L1369.69,1285.38 L1376.00,1285.52 L1382.31,1285.66 L1388.61,1285.81 L1394.92,1285.95 L1401.23,1286.09 L1407.53,1286.24 L1413.84,1286.38 L1420.15,1286.52 L1426.46,1286.66 L1432.76,1286.80 L1439.07,1286.94 L1445.38,1287.09 L1451.69,1287.23 L1457.99,1287.37 L1464.30,1287.51 L1470.61,1287.65 L1476.92,1287.79 L1483.22,1287.93 L1489.53,1288.07 L1495.84,1288.21 L1502.15,1288.34 L1508.45,1288.48 L1514.76,1288.62 L1521.07,1288.76 L1527.37,1288.90 L1533.68,1289.03 L1539.99,1289.17 L1546.30,1289.31 L1552.60,1289.44 L1558.91,1289.58 L1565.22,1289.71 L1571.53,1289.85 L1577.83,1289.98 L1584.14,1290.11 L1590.45,1290.25 L1596.76,1290.38 L1603.06,1290.51 L1609.37,1290.65 L1615.68,1290.78 L1621.98,1290.91 L1628.29,1291.04 L1634.60,1291.17 L1640.91,1291.30 L1647.21,1291.43 L1653.52,1291.56 L1659.83,1291.68 L1666.14,1291.81 L1672.44,1291.94 L1678.75,1292.07 L1685.06,1292.19 L1691.37,1292.32 L1697.67,1292.44 L1703.98,1292.57 L1710.29,1292.69 L1716.60,1292.81 L1722.90,1292.94 L1729.21,1293.06 L1735.52,1293.18 L1741.82,1293.30 L1748.13,1293.42 L1754.44,1293.54 L1760.75,1293.66 L1767.05,1293.78 L1773.36,1293.89 L1779.67,1294.01 L1785.98,1294.13 L1792.28,1294.24 L1798.59,1294.36 L1804.90,1294.47 L1811.21,1294.58 L1817.51,1294.70 L1823.82,1294.81 L1830.13,1294.92 L1836.44,1295.03 L1842.74,1295.14 L1849.05,1295.25 L1855.36,1295.36 L1861.66,1295.46 L1867.97,1295.57 L1874.28,1295.68 L1880.59,1295.78 L1886.89,1295.89 L1893.20,1295.99 L1899.51,1296.09 L1905.82,1296.19 L1912.12,1296.29 L1918.43,1296.39 L1924.74,1296.49 L1931.05,1296.59 L1937.35,1296.69 L1943.66,1296.79 L1949.97,1296.88 L1956.27,1296.98 L1962.58,1297.07 L1968.89,1297.16 L1975.20,1297.25 L1981.50,1297.35 L1987.81,1297.44 L1994.12,1297.52 L2000.43,1297.61 L2006.73,1297.70 L2013.04,1297.79 L2019.35,1297.87 L2025.66,1297.96 L2031.96,1298.04 L2038.27,1298.12 L2044.58,1298.20 L2050.89,1298.28 L2057.19,1298.36 L2063.50,1298.44" fill="none" stroke="#000" stroke-width="3.9" stroke-linejoin="round" stroke-linecap="butt"/>
<path d="M2063.50,967.11 L2054.26,967.47 L2045.05,967.83 L2035.88,968.20 L2026.75,968.57 L2017.66,968.94 L2008.60,969.32 L1999.58,969.70 L1990.60,970.08 L1981.65,970.47 L1972.75,970.87 L1963.88,971.26 L1955.04,971.66 L1946.24,972.07 L1937.48,972.48 L1928.76,972.89 L1920.08,973.30 L1911.43,973.72 L1902.82,974.14 L1894.24,974.57 L1885.71,975.00 L1877.21,975.43 L1868.74,975.87 L1860.32,976.31 L1851.93,976.75 L1843.58,977.19 L1835.26,977.64 L1826.98,978.09 L1818.74,978.55 L1810.54,979.01 L1802.38,979.47 L1794.25,979.93 L1786.15,980.39 L1778.10,980.86 L1770.08,981.33 L1762.10,981.81 L1754.16,982.29 L1746.25,982.76 L1738.38,983.25 L1730.55,983.73 L1722.76,984.22 L1715.00,984.71 L1707.28,985.20 L1699.60,985.69 L1691.95,986.19 L1684.34,986.69 L1676.77,987.19 L1669.23,987.69 L1661.74,988.19 L1654.27,988.70 L1646.85,989.21 L1639.46,989.72 L1632.12,990.23 L1624.80,990.75 L1617.53,991.26 L1610.29,991.78 L1603.09,992.30 L1595.93,992.82 L1588.80,993.35 L1581.71,993.87 L1574.66,994.40 L1567.64,994.92 L1560.66,995.45 L1553.72,995.98 L1546.82,996.52 L1539.95,997.05 L1533.12,997.58 L1526.33,998.12 L1519.57,998.66 L1512.86,999.19 L1506.17,999.73 L1499.53,1000.27 L1492.92,1000.81 L1486.35,1001.35 L1479.82,1001.90 L1473.33,1002.44 L1466.87,1002.98 L1460.45,1003.53 L1454.06,1004.08 L1447.71,1004.62 L1441.40,1005.17 L1435.13,1005.72 L1428.89,1006.26 L1422.70,1006.81 L1416.53,1007.36 L1410.41,1007.91 L1404.32,1008.46 L1398.27,1009.01 L1392.26,1009.56 L1386.28,1010.11 L1380.34,1010.66 L1374.44,1011.21 L1368.58,1011.76 L1362.75,1012.32 L1356.96,1012.87 L1351.21,1013.42 L1345.49,1013.98 L1339.81,1014.53 L1334.17,1015.09 L1328.57,1015.65 L1323.00,1016.20 L1317.47,1016.76 L1311.97,1017.32 L1306.52,1017.88 L1301.10,1018.44 L1295.72,1019.01 L1290.37,1019.57 L1285.06,1020.14 L1279.79,1020.70 L1274.56,1021.27 L1269.36,1021.84 L1264.20,1022.41 L1259.08,1022.99 L1254.00,1023.56 L1248.95,1024.14 L1243.94,1024.72 L1238.96,1025.30 L1234.03,1025.88 L1229.13,1026.46 L1224.26,1027.05 L1219.44,1027.64 L1214.65,1028.23 L1209.90,1028.82 L1205.19,1029.41 L1200.51,1030.01 L1195.87,1030.61 L1191.27,1031.21 L1186.70,1031.81 L1182.17,1032.42 L1177.68,1033.03 L1173.23,1033.64 L1168.81,1034.25 L1164.43,1034.87 L1160.09,1035.49 L1155.78,1036.11 L1151.51,1036.74 L1147.28,1037.36 L1143.09,1037.99 L1138.93,1038.63 L1134.81,1039.27 L1130.73,1039.91 L1126.68,1040.55 L1122.67,1041.20 L1118.70,1041.85 L1114.77,1042.50 L1110.87,1043.16 L1107.01,1043.82 L1103.19,1044.48 L1099.40,1045.15 L1095.65,1045.82 L1091.94,1046.49 L1088.26,1047.17 L1084.63,1047.85 L1081.03,1048.54 L1077.46,1049.23 L1073.94,1049.93 L1070.45,1050.62 L1067.00,1051.33 L1063.58,1052.03 L1060.20,1052.74 L1056.86,1053.46 L1053.56,1054.18 L1050.29,1054.90 L1047.06,1055.63 L1043.87,1056.36 L1040.72,1057.10 L1037.60,1057.84 L1034.52,1058.59 L1031.47,1059.34 L1028.47,1060.09 L1025.50,1060.85 L1022.56,1061.62 L1019.67,1062.39 L1016.81,1063.16 L1013.99,1063.94 L1011.21,1064.73 L1008.46,1065.52 L1005.75,1066.32 L1003.08,1067.12 L1000.44,1067.92 L997.84,1068.74 L995.28,1069.55 L992.76,1070.38 L990.27,1071.20 L987.82,1072.04 L985.41,1072.88 L983.03,1073.72 L980.70,1074.57 L978.39,1075.43 L976.13,1076.28 L973.90,1077.15 L971.71,1078.01 L969.56,1078.88 L967.44,1079.75 L965.37,1080.63 L963.32,1081.51 L961.32,1082.38 L959.35,1083.27 L957.42,1084.15 L955.53,1085.03 L953.67,1085.92 L951.86,1086.80 L950.07,1087.68 L948.33,1088.57 L946.62,1089.45 L944.95,1090.34 L943.32,1091.22 L941.72,1092.10 L940.16,1092.98 L938.64,1093.85 L937.16,1094.73 L935.71,1095.60 L934.30,1096.47 L932.93,1097.33 L931.59,1098.19 L930.29,1099.04 L929.03,1099.89 L927.80,1100.73 L926.62,1101.57 L925.46,1102.40 L924.35,1103.22 L923.27,1104.03 L922.24,1104.84 L921.23,1105.63 L920.27,1106.42 L919.34,1107.19 L918.45,1107.96 L917.60,1108.71 L916.78,1109.45 L916.00,1110.18 L915.26,1110.90 L914.55,1111.61 L913.88,1112.31 L913.25,1113.00 L912.66,1113.68 L912.10,1114.35 L911.58,1115.02 L911.10,1115.68 L910.65,1116.33 L910.25,1116.98 L909.87,1117.62 L909.54,1118.26 L909.24,1118.89 L908.98,1119.52 L908.76,1120.15 L908.58,1120.77 L908.43,1121.40 L908.32,1122.02 L908.24,1122.65 L908.20,1123.27 L908.20,1123.89 L908.24,1124.52 L908.32,1125.15 L908.43,1125.78 L908.58,1126.42 L908.76,1127.06 L908.98,1127.70 L909.24,1128.35 L909.54,1129.00 L909.87,1129.67 L910.25,1130.34 L910.65,1131.01 L911.10,1131.70 L911.58,1132.39 L912.10,1133.08 L912.66,1133.79 L913.25,1134.50 L913.88,1135.21 L914.55,1135.93 L915.26,1136.66 L916.00,1137.39 L916.78,1138.12 L917.60,1138.86 L918.45,1139.60 L919.34,1140.34 L920.27,1141.08 L921.23,1141.83 L922.24,1142.58 L923.27,1143.33 L924.35,1144.08 L925.46,1144.83 L926.62,1145.58 L927.80,1146.33 L929.03,1147.08 L930.29,1147.83 L931.59,1148.57 L932.93,1149.32 L934.30,1150.07 L935.71,1150.81 L937.16,1151.56 L938.64,1152.30 L940.16,1153.05 L941.72,1153.79 L943.32,1154.54 L944.95,1155.28 L946.62,1156.02 L948.33,1156.76 L950.07,1157.50 L951.86,1158.24 L953.67,1158.98 L955.53,1159.71 L957.42,1160.45 L959.35,1161.19 L961.32,1161.92 L963.32,1162.66 L965.37,1163.39 L967.44,1164.12 L969.56,1164.85 L971.71,1165.58 L973.90,1166.31 L976.13,1167.04 L978.39,1167.77 L980.70,1168.50 L983.03,1169.22 L985.41,1169.95 L987.82,1170.67 L990.27,1171.39 L992.76,1172.11 L995.28,1172.84 L997.84,1173.55 L1000.44,1174.27 L1003.08,1174.99 L1005.75,1175.71 L1008.46,1176.42 L1011.21,1177.14 L1013.99,1177.85 L1016.81,1178.56 L1019.67,1179.27 L1022.56,1179.98 L1025.50,1180.69 L1028.47,1181.39 L1031.47,1182.10 L1034.52,1182.80 L1037.60,1183.50 L1040.72,1184.21 L1043.87,1184.91 L1047.06,1185.60 L1050.29,1186.30 L1053.56,1187.00 L1056.86,1187.69 L1060.20,1188.39 L1063.58,1189.08 L1067.00,1189.77 L1070.45,1190.46 L1073.94,1191.14 L1077.46,1191.83 L1081.03,1192.52 L1084.63,1193.20 L1088.26,1193.88 L1091.94,1194.56 L1095.65,1195.24 L1099.40,1195.92 L1103.19,1196.59 L1107.01,1197.27 L1110.87,1197.94 L1114.77,1198.61 L1118.70,1199.28 L1122.67,1199.94 L1126.68,1200.61 L1130.73,1201.27 L1134.81,1201.94 L1138.93,1202.60 L1143.09,1203.26 L1147.28,1203.91 L1151.51,1204.57 L1155.78,1205.22 L1160.09,1205.87 L1164.43,1206.52 L1168.81,1207.17 L1173.23,1207.81 L1177.68,1208.46 L1182.17,1209.09 L1186.70,1209.73 L1191.27,1210.36 L1195.87,1211.00 L1200.51,1211.62 L1205.19,1212.25 L1209.90,1212.87 L1214.65,1213.49 L1219.44,1214.10 L1224.26,1214.72 L1229.13,1215.32 L1234.03,1215.93 L1238.96,1216.53 L1243.94,1217.13 L1248.95,1217.72 L1254.00,1218.31 L1259.08,1218.89 L1264.20,1219.47 L1269.36,1220.05 L1274.56,1220.62 L1279.79,1221.19 L1285.06,1221.75 L1290.37,1222.31 L1295.72,1222.86 L1301.10,1223.41 L1306.52,1223.95 L1311.97,1224.49 L1317.47,1225.02 L1323.00,1225.55 L1328.57,1226.07 L1334.17,1226.59 L1339.81,1227.10 L1345.49,1227.61 L1351.21,1228.11 L1356.96,1228.60 L1362.75,1229.09 L1368.58,1229.58 L1374.44,1230.06 L1380.34,1230.54 L1386.28,1231.02 L1392.26,1231.49 L1398.27,1231.96 L1404.32,1232.43 L1410.41,1232.89 L1416.53,1233.36 L1422.70,1233.82 L1428.89,1234.28 L1435.13,1234.73 L1441.40,1235.19 L1447.71,1235.64 L1454.06,1236.10 L1460.45,1236.55 L1466.87,1237.01 L1473.33,1237.46 L1479.82,1237.92 L1486.35,1238.37 L1492.92,1238.83 L1499.53,1239.29 L1506.17,1239.74 L1512.86,1240.20 L1519.57,1240.66 L1526.33,1241.11 L1533.12,1241.57 L1539.95,1242.03 L1546.82,1242.48 L1553.72,1242.94 L1560.66,1243.39 L1567.64,1243.85 L1574.66,1244.31 L1581.71,1244.76 L1588.80,1245.22 L1595.93,1245.67 L1603.09,1246.12 L1610.29,1246.58 L1617.53,1247.03 L1624.80,1247.48 L1632.12,1247.93 L1639.46,1248.38 L1646.85,1248.83 L1654.27,1249.27 L1661.74,1249.72 L1669.23,1250.16 L1676.77,1250.61 L1684.34,1251.05 L1691.95,1251.49 L1699.60,1251.93 L1707.28,1252.37 L1715.00,1252.80 L1722.76,1253.24 L1730.55,1253.67 L1738.38,1254.10 L1746.25,1254.53 L1754.16,1254.96 L1762.10,1255.38 L1770.08,1255.81 L1778.10,1256.23 L1786.15,1256.65 L1794.25,1257.06 L1802.38,1257.48 L1810.54,1257.89 L1818.74,1258.30 L1826.98,1258.70 L1835.26,1259.11 L1843.58,1259.51 L1851.93,1259.91 L1860.32,1260.31 L1868.74,1260.70 L1877.21,1261.09 L1885.71,1261.48 L1894.24,1261.86 L1902.82,1262.24 L1911.43,1262.62 L1920.08,1263.00 L1928.76,1263.37 L1937.48,1263.74 L1946.24,1264.10 L1955.04,1264.46 L1963.88,1264.82 L1972.75,1265.18 L1981.65,1265.53 L1990.60,1265.87 L1999.58,1266.22 L2008.60,1266.56 L2017.66,1266.89 L2026.75,1267.22 L2035.88,1267.55 L2045.05,1267.88 L2054.26,1268.19 L2063.50,1268.51" fill="none" stroke="#000" stroke-width="3.9" stroke-linejoin="round" stroke-linecap="butt"/>
<path d="M2063.50,989.07 L2055.82,989.37 L2048.18,989.68 L2040.56,989.99 L2032.97,990.31 L2025.42,990.63 L2017.90,990.96 L2010.40,991.29 L2002.94,991.63 L1995.51,991.97 L1988.11,992.32 L1980.74,992.67 L1973.40,993.03 L1966.10,993.39 L1958.82,993.76 L1951.57,994.13 L1944.36,994.51 L1937.17,994.89 L1930.02,995.28 L1922.90,995.67 L1915.81,996.06 L1908.75,996.46 L1901.72,996.86 L1894.72,997.27 L1887.75,997.68 L1880.81,998.09 L1873.90,998.51 L1867.03,998.93 L1860.18,999.36 L1853.37,999.79 L1846.59,1000.22 L1839.83,1000.66 L1833.11,1001.09 L1826.42,1001.54 L1819.76,1001.98 L1813.13,1002.43 L1806.53,1002.88 L1799.97,1003.33 L1793.43,1003.79 L1786.92,1004.25 L1780.45,1004.71 L1774.00,1005.17 L1767.59,1005.64 L1761.21,1006.11 L1754.86,1006.58 L1748.53,1007.05 L1742.24,1007.53 L1735.99,1008.00 L1729.76,1008.48 L1723.56,1008.96 L1717.39,1009.45 L1711.26,1009.93 L1705.15,1010.42 L1699.08,1010.90 L1693.03,1011.39 L1687.02,1011.88 L1681.04,1012.37 L1675.09,1012.87 L1669.17,1013.36 L1663.28,1013.85 L1657.42,1014.35 L1651.59,1014.85 L1645.80,1015.34 L1640.03,1015.84 L1634.30,1016.34 L1628.59,1016.84 L1622.92,1017.34 L1617.28,1017.84 L1611.66,1018.34 L1606.08,1018.84 L1600.53,1019.34 L1595.01,1019.84 L1589.53,1020.34 L1584.07,1020.84 L1578.64,1021.34 L1573.25,1021.84 L1567.88,1022.34 L1562.55,1022.84 L1557.24,1023.33 L1551.97,1023.83 L1546.73,1024.33 L1541.52,1024.83 L1536.34,1025.32 L1531.19,1025.82 L1526.07,1026.31 L1520.98,1026.80 L1515.93,1027.29 L1510.90,1027.79 L1505.90,1028.28 L1500.94,1028.77 L1496.01,1029.26 L1491.10,1029.74 L1486.23,1030.23 L1481.39,1030.72 L1476.58,1031.21 L1471.80,1031.69 L1467.05,1032.18 L1462.34,1032.66 L1457.65,1033.14 L1452.99,1033.63 L1448.37,1034.11 L1443.78,1034.59 L1439.21,1035.07 L1434.68,1035.55 L1430.18,1036.03 L1425.71,1036.50 L1421.27,1036.98 L1416.86,1037.46 L1412.48,1037.93 L1408.13,1038.41 L1403.81,1038.88 L1399.53,1039.35 L1395.27,1039.83 L1391.05,1040.30 L1386.86,1040.77 L1382.69,1041.24 L1378.56,1041.71 L1374.46,1042.18 L1370.39,1042.64 L1366.35,1043.11 L1362.34,1043.58 L1358.37,1044.05 L1354.42,1044.52 L1350.50,1045.00 L1346.62,1045.48 L1342.76,1045.96 L1338.94,1046.45 L1335.15,1046.94 L1331.39,1047.45 L1327.66,1047.96 L1323.96,1048.48 L1320.29,1049.00 L1316.65,1049.54 L1313.04,1050.08 L1309.46,1050.62 L1305.92,1051.18 L1302.40,1051.74 L1298.92,1052.30 L1295.47,1052.87 L1292.04,1053.44 L1288.65,1054.02 L1285.29,1054.60 L1281.96,1055.19 L1278.66,1055.78 L1275.39,1056.37 L1272.16,1056.96 L1268.95,1057.56 L1265.77,1058.15 L1262.63,1058.75 L1259.51,1059.35 L1256.43,1059.95 L1253.38,1060.55 L1250.36,1061.15 L1247.37,1061.75 L1244.41,1062.35 L1241.48,1062.96 L1238.58,1063.56 L1235.71,1064.16 L1232.87,1064.77 L1230.07,1065.37 L1227.29,1065.98 L1224.55,1066.58 L1221.83,1067.19 L1219.15,1067.80 L1216.50,1068.41 L1213.88,1069.02 L1211.29,1069.64 L1208.73,1070.25 L1206.20,1070.87 L1203.70,1071.49 L1201.24,1072.11 L1198.80,1072.73 L1196.40,1073.35 L1194.02,1073.98 L1191.68,1074.61 L1189.37,1075.24 L1187.09,1075.87 L1184.83,1076.50 L1182.61,1077.14 L1180.43,1077.78 L1178.27,1078.42 L1176.14,1079.07 L1174.04,1079.72 L1171.98,1080.37 L1169.94,1081.02 L1167.94,1081.68 L1165.96,1082.34 L1164.02,1083.00 L1162.11,1083.67 L1160.23,1084.34 L1158.38,1085.01 L1156.56,1085.69 L1154.77,1086.37 L1153.01,1087.05 L1151.29,1087.74 L1149.59,1088.43 L1147.93,1089.13 L1146.29,1089.83 L1144.69,1090.53 L1143.12,1091.24 L1141.58,1091.96 L1140.06,1092.67 L1138.58,1093.39 L1137.13,1094.12 L1135.72,1094.85 L1134.33,1095.58 L1132.97,1096.31 L1131.65,1097.05 L1130.35,1097.78 L1129.09,1098.52 L1127.85,1099.25 L1126.65,1099.99 L1125.48,1100.72 L1124.34,1101.44 L1123.23,1102.17 L1122.15,1102.88 L1121.10,1103.60 L1120.08,1104.30 L1119.10,1105.00 L1118.14,1105.69 L1117.22,1106.38 L1116.32,1107.05 L1115.46,1107.72 L1114.63,1108.37 L1113.82,1109.01 L1113.05,1109.65 L1112.31,1110.27 L1111.60,1110.88 L1110.93,1111.48 L1110.28,1112.08 L1109.66,1112.66 L1109.08,1113.24 L1108.52,1113.81 L1108.00,1114.37 L1107.50,1114.93 L1107.04,1115.48 L1106.61,1116.03 L1106.21,1116.57 L1105.84,1117.11 L1105.50,1117.65 L1105.19,1118.18 L1104.91,1118.71 L1104.67,1119.23 L1104.45,1119.76 L1104.27,1120.28 L1104.11,1120.81 L1103.99,1121.33 L1103.90,1121.86 L1103.83,1122.38 L1103.80,1122.91 L1103.80,1123.44 L1103.83,1123.97 L1103.90,1124.51 L1103.99,1125.05 L1104.11,1125.59 L1104.27,1126.13 L1104.45,1126.68 L1104.67,1127.23 L1104.91,1127.78 L1105.19,1128.34 L1105.50,1128.90 L1105.84,1129.47 L1106.21,1130.04 L1106.61,1130.61 L1107.04,1131.19 L1107.50,1131.78 L1108.00,1132.37 L1108.52,1132.96 L1109.08,1133.56 L1109.66,1134.17 L1110.28,1134.78 L1110.93,1135.39 L1111.60,1136.02 L1112.31,1136.65 L1113.05,1137.28 L1113.82,1137.92 L1114.63,1138.57 L1115.46,1139.23 L1116.32,1139.89 L1117.22,1140.55 L1118.14,1141.22 L1119.10,1141.90 L1120.08,1142.58 L1121.10,1143.26 L1122.15,1143.94 L1123.23,1144.63 L1124.34,1145.31 L1125.48,1146.00 L1126.65,1146.68 L1127.85,1147.36 L1129.09,1148.04 L1130.35,1148.72 L1131.65,1149.39 L1132.97,1150.06 L1134.33,1150.73 L1135.72,1151.39 L1137.13,1152.04 L1138.58,1152.69 L1140.06,1153.32 L1141.58,1153.95 L1143.12,1154.58 L1144.69,1155.19 L1146.29,1155.80 L1147.93,1156.41 L1149.59,1157.01 L1151.29,1157.60 L1153.01,1158.19 L1154.77,1158.78 L1156.56,1159.36 L1158.38,1159.95 L1160.23,1160.53 L1162.11,1161.10 L1164.02,1161.68 L1165.96,1162.26 L1167.94,1162.84 L1169.94,1163.41 L1171.98,1163.99 L1174.04,1164.57 L1176.14,1165.16 L1178.27,1165.74 L1180.43,1166.33 L1182.61,1166.93 L1184.83,1167.53 L1187.09,1168.13 L1189.37,1168.74 L1191.68,1169.35 L1194.02,1169.97 L1196.40,1170.60 L1198.80,1171.24 L1201.24,1171.88 L1203.70,1172.53 L1206.20,1173.19 L1208.73,1173.85 L1211.29,1174.51 L1213.88,1175.17 L1216.50,1175.84 L1219.15,1176.51 L1221.83,1177.18 L1224.55,1177.84 L1227.29,1178.51 L1230.07,1179.17 L1232.87,1179.82 L1235.71,1180.47 L1238.58,1181.12 L1241.48,1181.75 L1244.41,1182.38 L1247.37,1183.01 L1250.36,1183.63 L1253.38,1184.24 L1256.43,1184.84 L1259.51,1185.45 L1262.63,1186.04 L1265.77,1186.64 L1268.95,1187.23 L1272.16,1187.81 L1275.39,1188.40 L1278.66,1188.98 L1281.96,1189.56 L1285.29,1190.13 L1288.65,1190.71 L1292.04,1191.28 L1295.47,1191.85 L1298.92,1192.42 L1302.40,1192.99 L1305.92,1193.55 L1309.46,1194.12 L1313.04,1194.68 L1316.65,1195.25 L1320.29,1195.81 L1323.96,1196.37 L1327.66,1196.92 L1331.39,1197.48 L1335.15,1198.04 L1338.94,1198.59 L1342.76,1199.14 L1346.62,1199.69 L1350.50,1200.24 L1354.42,1200.79 L1358.37,1201.33 L1362.34,1201.88 L1366.35,1202.42 L1370.39,1202.96 L1374.46,1203.50 L1378.56,1204.04 L1382.69,1204.58 L1386.86,1205.11 L1391.05,1205.65 L1395.27,1206.18 L1399.53,1206.71 L1403.81,1207.24 L1408.13,1207.77 L1412.48,1208.30 L1416.86,1208.82 L1421.27,1209.35 L1425.71,1209.87 L1430.18,1210.39 L1434.68,1210.91 L1439.21,1211.43 L1443.78,1211.94 L1448.37,1212.46 L1452.99,1212.97 L1457.65,1213.48 L1462.34,1213.99 L1467.05,1214.50 L1471.80,1215.01 L1476.58,1215.51 L1481.39,1216.02 L1486.23,1216.52 L1491.10,1217.02 L1496.01,1217.52 L1500.94,1218.02 L1505.90,1218.52 L1510.90,1219.01 L1515.93,1219.51 L1520.98,1220.00 L1526.07,1220.49 L1531.19,1220.98 L1536.34,1221.47 L1541.52,1221.96 L1546.73,1222.44 L1551.97,1222.93 L1557.24,1223.41 L1562.55,1223.89 L1567.88,1224.37 L1573.25,1224.85 L1578.64,1225.32 L1584.07,1225.80 L1589.53,1226.27 L1595.01,1226.74 L1600.53,1227.21 L1606.08,1227.68 L1611.66,1228.15 L1617.28,1228.61 L1622.92,1229.08 L1628.59,1229.54 L1634.30,1230.00 L1640.03,1230.46 L1645.80,1230.92 L1651.59,1231.38 L1657.42,1231.83 L1663.28,1232.29 L1669.17,1232.74 L1675.09,1233.19 L1681.04,1233.64 L1687.02,1234.09 L1693.03,1234.54 L1699.08,1234.98 L1705.15,1235.43 L1711.26,1235.87 L1717.39,1236.31 L1723.56,1236.75 L1729.76,1237.19 L1735.99,1237.62 L1742.24,1238.06 L1748.53,1238.49 L1754.86,1238.92 L1761.21,1239.35 L1767.59,1239.78 L1774.00,1240.21 L1780.45,1240.64 L1786.92,1241.06 L1793.43,1241.48 L1799.97,1241.90 L1806.53,1242.32 L1813.13,1242.74 L1819.76,1243.16 L1826.42,1243.58 L1833.11,1243.99 L1839.83,1244.40 L1846.59,1244.81 L1853.37,1245.22 L1860.18,1245.63 L1867.03,1246.04 L1873.90,1246.44 L1880.81,1246.85 L1887.75,1247.25 L1894.72,1247.65 L1901.72,1248.05 L1908.75,1248.45 L1915.81,1248.85 L1922.90,1249.24 L1930.02,1249.63 L1937.17,1250.03 L1944.36,1250.42 L1951.57,1250.81 L1958.82,1251.19 L1966.10,1251.58 L1973.40,1251.97 L1980.74,1252.35 L1988.11,1252.73 L1995.51,1253.11 L2002.94,1253.49 L2010.40,1253.87 L2017.90,1254.24 L2025.42,1254.62 L2032.97,1254.99 L2040.56,1255.36 L2048.18,1255.73 L2055.82,1256.10 L2063.50,1256.47" fill="none" stroke="#000" stroke-width="3.9" stroke-linejoin="round" stroke-linecap="butt"/>
<path d="M2063.50,1005.16 L2057.11,1005.50 L2050.75,1005.84 L2044.42,1006.19 L2038.11,1006.53 L2031.82,1006.88 L2025.56,1007.23 L2019.33,1007.58 L2013.12,1007.93 L2006.94,1008.29 L2000.78,1008.64 L1994.65,1009.00 L1988.55,1009.36 L1982.47,1009.72 L1976.41,1010.08 L1970.39,1010.44 L1964.38,1010.81 L1958.41,1011.17 L1952.46,1011.54 L1946.53,1011.91 L1940.63,1012.28 L1934.76,1012.65 L1928.91,1013.02 L1923.08,1013.40 L1917.29,1013.77 L1911.52,1014.15 L1905.77,1014.53 L1900.05,1014.91 L1894.36,1015.29 L1888.69,1015.67 L1883.04,1016.05 L1877.43,1016.44 L1871.83,1016.82 L1866.27,1017.21 L1860.73,1017.59 L1855.21,1017.98 L1849.72,1018.37 L1844.26,1018.76 L1838.82,1019.15 L1833.41,1019.55 L1828.02,1019.94 L1822.66,1020.34 L1817.32,1020.73 L1812.01,1021.13 L1806.73,1021.53 L1801.47,1021.92 L1796.24,1022.32 L1791.03,1022.72 L1785.85,1023.13 L1780.69,1023.53 L1775.56,1023.93 L1770.46,1024.34 L1765.38,1024.74 L1760.33,1025.15 L1755.30,1025.55 L1750.30,1025.96 L1745.32,1026.37 L1740.37,1026.78 L1735.45,1027.19 L1730.55,1027.60 L1725.67,1028.01 L1720.82,1028.42 L1716.00,1028.83 L1711.21,1029.24 L1706.43,1029.66 L1701.69,1030.07 L1696.97,1030.49 L1692.27,1030.90 L1687.61,1031.32 L1682.96,1031.73 L1678.35,1032.15 L1673.75,1032.57 L1669.19,1032.99 L1664.65,1033.40 L1660.13,1033.82 L1655.64,1034.24 L1651.18,1034.66 L1646.74,1035.08 L1642.33,1035.50 L1637.94,1035.92 L1633.58,1036.35 L1629.25,1036.77 L1624.94,1037.19 L1620.66,1037.61 L1616.40,1038.03 L1612.17,1038.46 L1607.96,1038.88 L1603.78,1039.31 L1599.62,1039.73 L1595.49,1040.16 L1591.39,1040.58 L1587.31,1041.01 L1583.26,1041.44 L1579.23,1041.87 L1575.23,1042.31 L1571.25,1042.74 L1567.30,1043.18 L1563.38,1043.61 L1559.48,1044.05 L1555.60,1044.49 L1551.76,1044.94 L1547.93,1045.38 L1544.14,1045.83 L1540.37,1046.28 L1536.62,1046.73 L1532.90,1047.19 L1529.21,1047.65 L1525.54,1048.11 L1521.90,1048.57 L1518.28,1049.04 L1514.69,1049.50 L1511.12,1049.98 L1507.58,1050.45 L1504.07,1050.93 L1500.58,1051.41 L1497.12,1051.90 L1493.68,1052.39 L1490.27,1052.88 L1486.88,1053.38 L1483.52,1053.88 L1480.19,1054.39 L1476.88,1054.90 L1473.60,1055.41 L1470.34,1055.93 L1467.11,1056.45 L1463.90,1056.98 L1460.72,1057.51 L1457.56,1058.04 L1454.44,1058.58 L1451.33,1059.11 L1448.25,1059.65 L1445.20,1060.19 L1442.17,1060.74 L1439.17,1061.28 L1436.20,1061.83 L1433.25,1062.37 L1430.32,1062.92 L1427.42,1063.46 L1424.55,1064.01 L1421.70,1064.56 L1418.88,1065.10 L1416.09,1065.64 L1413.32,1066.18 L1410.57,1066.72 L1407.85,1067.26 L1405.16,1067.80 L1402.49,1068.33 L1399.85,1068.86 L1397.23,1069.39 L1394.64,1069.91 L1392.08,1070.43 L1389.54,1070.95 L1387.02,1071.46 L1384.54,1071.96 L1382.07,1072.46 L1379.64,1072.96 L1377.23,1073.45 L1374.84,1073.93 L1372.48,1074.41 L1370.15,1074.89 L1367.84,1075.35 L1365.55,1075.82 L1363.30,1076.27 L1361.06,1076.73 L1358.86,1077.18 L1356.68,1077.63 L1354.52,1078.08 L1352.39,1078.52 L1350.29,1078.97 L1348.21,1079.41 L1346.16,1079.85 L1344.13,1080.29 L1342.13,1080.74 L1340.16,1081.18 L1338.21,1081.63 L1336.29,1082.08 L1334.39,1082.53 L1332.51,1082.99 L1330.67,1083.45 L1328.85,1083.91 L1327.05,1084.38 L1325.28,1084.85 L1323.54,1085.33 L1321.82,1085.81 L1320.13,1086.31 L1318.46,1086.80 L1316.82,1087.31 L1315.20,1087.83 L1313.61,1088.35 L1312.05,1088.88 L1310.51,1089.43 L1308.99,1089.98 L1307.50,1090.54 L1306.04,1091.11 L1304.61,1091.68 L1303.20,1092.26 L1301.81,1092.85 L1300.45,1093.44 L1299.12,1094.04 L1297.81,1094.64 L1296.53,1095.25 L1295.27,1095.86 L1294.04,1096.47 L1292.83,1097.08 L1291.65,1097.69 L1290.50,1098.30 L1289.37,1098.91 L1288.27,1099.52 L1287.19,1100.12 L1286.14,1100.72 L1285.11,1101.32 L1284.11,1101.92 L1283.14,1102.51 L1282.19,1103.10 L1281.26,1103.69 L1280.37,1104.28 L1279.49,1104.86 L1278.65,1105.44 L1277.83,1106.02 L1277.03,1106.59 L1276.26,1107.17 L1275.52,1107.74 L1274.80,1108.31 L1274.11,1108.87 L1273.44,1109.44 L1272.80,1110.00 L1272.18,1110.56 L1271.59,1111.12 L1271.03,1111.68 L1270.49,1112.24 L1269.98,1112.79 L1269.49,1113.34 L1269.03,1113.90 L1268.59,1114.45 L1268.18,1115.00 L1267.80,1115.54 L1267.44,1116.09 L1267.10,1116.64 L1266.80,1117.18 L1266.51,1117.73 L1266.26,1118.27 L1266.03,1118.81 L1265.82,1119.36 L1265.64,1119.90 L1265.49,1120.44 L1265.36,1120.98 L1265.26,1121.52 L1265.18,1122.06 L1265.13,1122.60 L1265.10,1123.14 L1265.10,1123.69 L1265.13,1124.23 L1265.18,1124.77 L1265.26,1125.31 L1265.36,1125.85 L1265.49,1126.39 L1265.64,1126.93 L1265.82,1127.47 L1266.03,1128.01 L1266.26,1128.55 L1266.51,1129.09 L1266.80,1129.63 L1267.10,1130.18 L1267.44,1130.72 L1267.80,1131.26 L1268.18,1131.80 L1268.59,1132.34 L1269.03,1132.88 L1269.49,1133.42 L1269.98,1133.96 L1270.49,1134.50 L1271.03,1135.04 L1271.59,1135.58 L1272.18,1136.12 L1272.80,1136.67 L1273.44,1137.21 L1274.11,1137.75 L1274.80,1138.29 L1275.52,1138.83 L1276.26,1139.37 L1277.03,1139.91 L1277.83,1140.45 L1278.65,1140.99 L1279.49,1141.52 L1280.37,1142.06 L1281.26,1142.60 L1282.19,1143.14 L1283.14,1143.68 L1284.11,1144.22 L1285.11,1144.76 L1286.14,1145.30 L1287.19,1145.83 L1288.27,1146.37 L1289.37,1146.91 L1290.50,1147.45 L1291.65,1147.99 L1292.83,1148.52 L1294.04,1149.06 L1295.27,1149.60 L1296.53,1150.13 L1297.81,1150.67 L1299.12,1151.20 L1300.45,1151.74 L1301.81,1152.28 L1303.20,1152.81 L1304.61,1153.35 L1306.04,1153.88 L1307.50,1154.41 L1308.99,1154.95 L1310.51,1155.48 L1312.05,1156.02 L1313.61,1156.55 L1315.20,1157.08 L1316.82,1157.61 L1318.46,1158.15 L1320.13,1158.68 L1321.82,1159.21 L1323.54,1159.74 L1325.28,1160.27 L1327.05,1160.80 L1328.85,1161.33 L1330.67,1161.86 L1332.51,1162.39 L1334.39,1162.92 L1336.29,1163.45 L1338.21,1163.98 L1340.16,1164.50 L1342.13,1165.03 L1344.13,1165.56 L1346.16,1166.08 L1348.21,1166.61 L1350.29,1167.14 L1352.39,1167.66 L1354.52,1168.18 L1356.68,1168.71 L1358.86,1169.23 L1361.06,1169.76 L1363.30,1170.28 L1365.55,1170.80 L1367.84,1171.32 L1370.15,1171.84 L1372.48,1172.36 L1374.84,1172.88 L1377.23,1173.40 L1379.64,1173.92 L1382.07,1174.44 L1384.54,1174.96 L1387.02,1175.48 L1389.54,1175.99 L1392.08,1176.51 L1394.64,1177.03 L1397.23,1177.54 L1399.85,1178.06 L1402.49,1178.57 L1405.16,1179.08 L1407.85,1179.60 L1410.57,1180.11 L1413.32,1180.62 L1416.09,1181.13 L1418.88,1181.64 L1421.70,1182.15 L1424.55,1182.66 L1427.42,1183.17 L1430.32,1183.68 L1433.25,1184.19 L1436.20,1184.69 L1439.17,1185.20 L1442.17,1185.70 L1445.20,1186.21 L1448.25,1186.71 L1451.33,1187.22 L1454.44,1187.72 L1457.56,1188.22 L1460.72,1188.72 L1463.90,1189.22 L1467.11,1189.72 L1470.34,1190.22 L1473.60,1190.72 L1476.88,1191.22 L1480.19,1191.71 L1483.52,1192.21 L1486.88,1192.71 L1490.27,1193.20 L1493.68,1193.69 L1497.12,1194.19 L1500.58,1194.68 L1504.07,1195.17 L1507.58,1195.66 L1511.12,1196.15 L1514.69,1196.64 L1518.28,1197.13 L1521.90,1197.62 L1525.54,1198.10 L1529.21,1198.59 L1532.90,1199.07 L1536.62,1199.56 L1540.37,1200.04 L1544.14,1200.52 L1547.93,1201.00 L1551.76,1201.48 L1555.60,1201.96 L1559.48,1202.44 L1563.38,1202.92 L1567.30,1203.40 L1571.25,1203.87 L1575.23,1204.35 L1579.23,1204.82 L1583.26,1205.30 L1587.31,1205.77 L1591.39,1206.24 L1595.49,1206.71 L1599.62,1207.18 L1603.78,1207.65 L1607.96,1208.12 L1612.17,1208.58 L1616.40,1209.05 L1620.66,1209.51 L1624.94,1209.98 L1629.25,1210.44 L1633.58,1210.90 L1637.94,1211.36 L1642.33,1211.82 L1646.74,1212.28 L1651.18,1212.74 L1655.64,1213.20 L1660.13,1213.65 L1664.65,1214.11 L1669.19,1214.56 L1673.75,1215.01 L1678.35,1215.46 L1682.96,1215.91 L1687.61,1216.36 L1692.27,1216.81 L1696.97,1217.26 L1701.69,1217.70 L1706.43,1218.15 L1711.21,1218.59 L1716.00,1219.03 L1720.82,1219.48 L1725.67,1219.92 L1730.55,1220.36 L1735.45,1220.79 L1740.37,1221.23 L1745.32,1221.67 L1750.30,1222.10 L1755.30,1222.53 L1760.33,1222.97 L1765.38,1223.40 L1770.46,1223.83 L1775.56,1224.26 L1780.69,1224.68 L1785.85,1225.11 L1791.03,1225.54 L1796.24,1225.96 L1801.47,1226.38 L1806.73,1226.80 L1812.01,1227.22 L1817.32,1227.64 L1822.66,1228.06 L1828.02,1228.48 L1833.41,1228.89 L1838.82,1229.31 L1844.26,1229.72 L1849.72,1230.13 L1855.21,1230.54 L1860.73,1230.95 L1866.27,1231.36 L1871.83,1231.76 L1877.43,1232.17 L1883.04,1232.57 L1888.69,1232.97 L1894.36,1233.37 L1900.05,1233.77 L1905.77,1234.17 L1911.52,1234.57 L1917.29,1234.96 L1923.08,1235.36 L1928.91,1235.75 L1934.76,1236.14 L1940.63,1236.53 L1946.53,1236.92 L1952.46,1237.31 L1958.41,1237.69 L1964.38,1238.08 L1970.39,1238.46 L1976.41,1238.84 L1982.47,1239.22 L1988.55,1239.60 L1994.65,1239.98 L2000.78,1240.36 L2006.94,1240.73 L2013.12,1241.10 L2019.33,1241.47 L2025.56,1241.84 L2031.82,1242.21 L2038.11,1242.58 L2044.42,1242.95 L2050.75,1243.31 L2057.11,1243.67 L2063.50,1244.03" fill="none" stroke="#000" stroke-width="3.9" stroke-linejoin="round" stroke-linecap="butt"/>
<path d="M2063.50,1027.64 L2058.91,1027.90 L2054.35,1028.15 L2049.80,1028.42 L2045.26,1028.68 L2040.75,1028.95 L2036.26,1029.21 L2031.78,1029.49 L2027.32,1029.76 L2022.89,1030.04 L2018.47,1030.32 L2014.06,1030.60 L2009.68,1030.88 L2005.31,1031.17 L2000.97,1031.46 L1996.64,1031.75 L1992.33,1032.04 L1988.04,1032.33 L1983.76,1032.63 L1979.51,1032.93 L1975.27,1033.23 L1971.05,1033.54 L1966.85,1033.85 L1962.67,1034.15 L1958.51,1034.47 L1954.37,1034.78 L1950.24,1035.09 L1946.13,1035.41 L1942.04,1035.73 L1937.97,1036.05 L1933.92,1036.37 L1929.89,1036.70 L1925.87,1037.02 L1921.87,1037.35 L1917.90,1037.68 L1913.94,1038.02 L1909.99,1038.35 L1906.07,1038.69 L1902.17,1039.02 L1898.28,1039.36 L1894.41,1039.70 L1890.56,1040.05 L1886.73,1040.39 L1882.92,1040.74 L1879.12,1041.08 L1875.35,1041.43 L1871.59,1041.78 L1867.85,1042.13 L1864.13,1042.49 L1860.43,1042.84 L1856.74,1043.20 L1853.08,1043.56 L1849.43,1043.91 L1845.80,1044.28 L1842.19,1044.64 L1838.60,1045.00 L1835.03,1045.36 L1831.47,1045.73 L1827.94,1046.10 L1824.42,1046.46 L1820.92,1046.83 L1817.44,1047.20 L1813.98,1047.57 L1810.53,1047.95 L1807.10,1048.32 L1803.70,1048.69 L1800.31,1049.07 L1796.94,1049.45 L1793.58,1049.82 L1790.25,1050.20 L1786.94,1050.58 L1783.64,1050.96 L1780.36,1051.34 L1777.10,1051.72 L1773.86,1052.11 L1770.63,1052.49 L1767.43,1052.87 L1764.24,1053.26 L1761.08,1053.64 L1757.93,1054.03 L1754.79,1054.41 L1751.68,1054.80 L1748.59,1055.19 L1745.51,1055.58 L1742.45,1055.97 L1739.41,1056.36 L1736.39,1056.75 L1733.39,1057.14 L1730.41,1057.53 L1727.44,1057.92 L1724.49,1058.31 L1721.57,1058.70 L1718.66,1059.09 L1715.76,1059.49 L1712.89,1059.88 L1710.04,1060.27 L1707.20,1060.66 L1704.38,1061.06 L1701.58,1061.45 L1698.80,1061.84 L1696.04,1062.24 L1693.29,1062.63 L1690.57,1063.02 L1687.86,1063.42 L1685.17,1063.81 L1682.50,1064.21 L1679.85,1064.60 L1677.21,1064.99 L1674.60,1065.39 L1672.00,1065.78 L1669.42,1066.17 L1666.86,1066.57 L1664.32,1066.96 L1661.80,1067.35 L1659.29,1067.74 L1656.80,1068.14 L1654.34,1068.53 L1651.89,1068.92 L1649.45,1069.31 L1647.04,1069.70 L1644.65,1070.09 L1642.27,1070.49 L1639.91,1070.88 L1637.57,1071.27 L1635.25,1071.66 L1632.95,1072.05 L1630.67,1072.45 L1628.40,1072.84 L1626.15,1073.23 L1623.93,1073.63 L1621.72,1074.02 L1619.52,1074.42 L1617.35,1074.81 L1615.20,1075.21 L1613.06,1075.60 L1610.94,1076.00 L1608.84,1076.40 L1606.76,1076.79 L1604.70,1077.19 L1602.65,1077.59 L1600.63,1077.99 L1598.62,1078.39 L1596.63,1078.79 L1594.66,1079.20 L1592.71,1079.60 L1590.77,1080.01 L1588.86,1080.41 L1586.96,1080.82 L1585.08,1081.23 L1583.22,1081.64 L1581.38,1082.05 L1579.55,1082.46 L1577.75,1082.87 L1575.96,1083.29 L1574.19,1083.70 L1572.44,1084.12 L1570.71,1084.54 L1569.00,1084.96 L1567.31,1085.38 L1565.63,1085.80 L1563.97,1086.23 L1562.33,1086.65 L1560.71,1087.08 L1559.11,1087.51 L1557.52,1087.94 L1555.96,1088.38 L1554.41,1088.81 L1552.88,1089.25 L1551.37,1089.69 L1549.88,1090.13 L1548.41,1090.57 L1546.95,1091.02 L1545.52,1091.47 L1544.10,1091.91 L1542.70,1092.37 L1541.32,1092.82 L1539.95,1093.28 L1538.61,1093.73 L1537.28,1094.20 L1535.97,1094.66 L1534.68,1095.12 L1533.41,1095.59 L1532.16,1096.06 L1530.93,1096.54 L1529.71,1097.01 L1528.51,1097.49 L1527.34,1097.97 L1526.18,1098.45 L1525.03,1098.93 L1523.91,1099.41 L1522.80,1099.90 L1521.72,1100.38 L1520.65,1100.86 L1519.60,1101.35 L1518.57,1101.83 L1517.55,1102.31 L1516.56,1102.79 L1515.58,1103.27 L1514.63,1103.74 L1513.69,1104.22 L1512.77,1104.69 L1511.86,1105.16 L1510.98,1105.63 L1510.11,1106.09 L1509.27,1106.55 L1508.44,1107.00 L1507.63,1107.45 L1506.83,1107.90 L1506.06,1108.34 L1505.31,1108.77 L1504.57,1109.20 L1503.85,1109.63 L1503.15,1110.05 L1502.47,1110.47 L1501.81,1110.89 L1501.16,1111.30 L1500.54,1111.70 L1499.93,1112.11 L1499.34,1112.51 L1498.77,1112.91 L1498.21,1113.30 L1497.68,1113.69 L1497.16,1114.08 L1496.67,1114.47 L1496.19,1114.85 L1495.73,1115.23 L1495.29,1115.61 L1494.86,1115.99 L1494.46,1116.37 L1494.07,1116.75 L1493.70,1117.12 L1493.35,1117.50 L1493.02,1117.87 L1492.71,1118.24 L1492.41,1118.61 L1492.14,1118.98 L1491.88,1119.35 L1491.64,1119.72 L1491.42,1120.10 L1491.22,1120.47 L1491.03,1120.84 L1490.87,1121.21 L1490.72,1121.58 L1490.59,1121.96 L1490.48,1122.33 L1490.39,1122.70 L1490.31,1123.08 L1490.26,1123.46 L1490.22,1123.83 L1490.20,1124.21 L1490.20,1124.59 L1490.22,1124.97 L1490.26,1125.35 L1490.31,1125.73 L1490.39,1126.11 L1490.48,1126.50 L1490.59,1126.88 L1490.72,1127.27 L1490.87,1127.66 L1491.03,1128.04 L1491.22,1128.44 L1491.42,1128.83 L1491.64,1129.22 L1491.88,1129.62 L1492.14,1130.01 L1492.41,1130.41 L1492.71,1130.82 L1493.02,1131.22 L1493.35,1131.62 L1493.70,1132.03 L1494.07,1132.44 L1494.46,1132.85 L1494.86,1133.27 L1495.29,1133.68 L1495.73,1134.10 L1496.19,1134.52 L1496.67,1134.94 L1497.16,1135.37 L1497.68,1135.80 L1498.21,1136.23 L1498.77,1136.66 L1499.34,1137.10 L1499.93,1137.53 L1500.54,1137.97 L1501.16,1138.42 L1501.81,1138.86 L1502.47,1139.31 L1503.15,1139.75 L1503.85,1140.20 L1504.57,1140.66 L1505.31,1141.11 L1506.06,1141.57 L1506.83,1142.02 L1507.63,1142.48 L1508.44,1142.94 L1509.27,1143.40 L1510.11,1143.86 L1510.98,1144.33 L1511.86,1144.79 L1512.77,1145.26 L1513.69,1145.73 L1514.63,1146.19 L1515.58,1146.66 L1516.56,1147.13 L1517.55,1147.60 L1518.57,1148.07 L1519.60,1148.55 L1520.65,1149.02 L1521.72,1149.49 L1522.80,1149.97 L1523.91,1150.44 L1525.03,1150.91 L1526.18,1151.39 L1527.34,1151.86 L1528.51,1152.34 L1529.71,1152.81 L1530.93,1153.29 L1532.16,1153.76 L1533.41,1154.24 L1534.68,1154.71 L1535.97,1155.18 L1537.28,1155.66 L1538.61,1156.13 L1539.95,1156.60 L1541.32,1157.07 L1542.70,1157.54 L1544.10,1158.01 L1545.52,1158.48 L1546.95,1158.95 L1548.41,1159.42 L1549.88,1159.89 L1551.37,1160.35 L1552.88,1160.82 L1554.41,1161.28 L1555.96,1161.74 L1557.52,1162.20 L1559.11,1162.66 L1560.71,1163.12 L1562.33,1163.58 L1563.97,1164.03 L1565.63,1164.48 L1567.31,1164.94 L1569.00,1165.38 L1570.71,1165.83 L1572.44,1166.28 L1574.19,1166.72 L1575.96,1167.16 L1577.75,1167.60 L1579.55,1168.04 L1581.38,1168.47 L1583.22,1168.90 L1585.08,1169.33 L1586.96,1169.76 L1588.86,1170.19 L1590.77,1170.61 L1592.71,1171.03 L1594.66,1171.44 L1596.63,1171.86 L1598.62,1172.27 L1600.63,1172.67 L1602.65,1173.08 L1604.70,1173.48 L1606.76,1173.88 L1608.84,1174.27 L1610.94,1174.67 L1613.06,1175.05 L1615.20,1175.44 L1617.35,1175.82 L1619.52,1176.20 L1621.72,1176.57 L1623.93,1176.94 L1626.15,1177.31 L1628.40,1177.67 L1630.67,1178.03 L1632.95,1178.38 L1635.25,1178.73 L1637.57,1179.08 L1639.91,1179.42 L1642.27,1179.76 L1644.65,1180.10 L1647.04,1180.44 L1649.45,1180.77 L1651.89,1181.10 L1654.34,1181.43 L1656.80,1181.76 L1659.29,1182.09 L1661.80,1182.41 L1664.32,1182.74 L1666.86,1183.06 L1669.42,1183.39 L1672.00,1183.71 L1674.60,1184.04 L1677.21,1184.36 L1679.85,1184.68 L1682.50,1185.01 L1685.17,1185.34 L1687.86,1185.67 L1690.57,1186.00 L1693.29,1186.33 L1696.04,1186.66 L1698.80,1187.00 L1701.58,1187.34 L1704.38,1187.68 L1707.20,1188.02 L1710.04,1188.37 L1712.89,1188.72 L1715.76,1189.07 L1718.66,1189.42 L1721.57,1189.77 L1724.49,1190.13 L1727.44,1190.49 L1730.41,1190.85 L1733.39,1191.22 L1736.39,1191.58 L1739.41,1191.95 L1742.45,1192.32 L1745.51,1192.69 L1748.59,1193.06 L1751.68,1193.44 L1754.79,1193.81 L1757.93,1194.19 L1761.08,1194.57 L1764.24,1194.95 L1767.43,1195.33 L1770.63,1195.71 L1773.86,1196.10 L1777.10,1196.48 L1780.36,1196.87 L1783.64,1197.26 L1786.94,1197.64 L1790.25,1198.03 L1793.58,1198.42 L1796.94,1198.81 L1800.31,1199.20 L1803.70,1199.60 L1807.10,1199.99 L1810.53,1200.38 L1813.98,1200.77 L1817.44,1201.17 L1820.92,1201.56 L1824.42,1201.96 L1827.94,1202.35 L1831.47,1202.75 L1835.03,1203.14 L1838.60,1203.53 L1842.19,1203.93 L1845.80,1204.32 L1849.43,1204.72 L1853.08,1205.11 L1856.74,1205.50 L1860.43,1205.90 L1864.13,1206.29 L1867.85,1206.68 L1871.59,1207.07 L1875.35,1207.47 L1879.12,1207.86 L1882.92,1208.25 L1886.73,1208.63 L1890.56,1209.02 L1894.41,1209.41 L1898.28,1209.80 L1902.17,1210.18 L1906.07,1210.56 L1909.99,1210.95 L1913.94,1211.33 L1917.90,1211.71 L1921.87,1212.09 L1925.87,1212.46 L1929.89,1212.84 L1933.92,1213.21 L1937.97,1213.59 L1942.04,1213.96 L1946.13,1214.33 L1950.24,1214.69 L1954.37,1215.06 L1958.51,1215.42 L1962.67,1215.79 L1966.85,1216.15 L1971.05,1216.50 L1975.27,1216.86 L1979.51,1217.21 L1983.76,1217.56 L1988.04,1217.91 L1992.33,1218.26 L1996.64,1218.60 L2000.97,1218.94 L2005.31,1219.28 L2009.68,1219.62 L2014.06,1219.95 L2018.47,1220.28 L2022.89,1220.61 L2027.32,1220.93 L2031.78,1221.25 L2036.26,1221.57 L2040.75,1221.89 L2045.26,1222.20 L2049.80,1222.51 L2054.35,1222.81 L2058.91,1223.12 L2063.50,1223.42" fill="none" stroke="#996633" stroke-width="5.3" stroke-linejoin="round" stroke-linecap="butt"/>
<g stroke="#404040" stroke-width="1.2" fill="none">
<line x1="140.3" y1="1374.62" x2="2100.6" y2="1374.62"/>
<line x1="179.55" y1="224" x2="179.55" y2="1435"/>
<line x1="179.55" y1="1374.62" x2="179.55" y2="1358.02"/>
<line x1="297.17" y1="1374.62" x2="297.17" y2="1364.82"/>
<line x1="414.79" y1="1374.62" x2="414.79" y2="1364.82"/>
<line x1="532.41" y1="1374.62" x2="532.41" y2="1364.82"/>
<line x1="650.03" y1="1374.62" x2="650.03" y2="1358.02"/>
<line x1="767.65" y1="1374.62" x2="767.65" y2="1364.82"/>
<line x1="885.27" y1="1374.62" x2="885.27" y2="1364.82"/>
<line x1="1002.89" y1="1374.62" x2="1002.89" y2="1364.82"/>
<line x1="1120.51" y1="1374.62" x2="1120.51" y2="1358.02"/>
<line x1="1238.13" y1="1374.62" x2="1238.13" y2="1364.82"/>
<line x1="1355.75" y1="1374.62" x2="1355.75" y2="1364.82"/>
<line x1="1473.37" y1="1374.62" x2="1473.37" y2="1364.82"/>
<line x1="1590.99" y1="1374.62" x2="1590.99" y2="1358.02"/>
<line x1="1708.61" y1="1374.62" x2="1708.61" y2="1364.82"/>
<line x1="1826.23" y1="1374.62" x2="1826.23" y2="1364.82"/>
<line x1="1943.85" y1="1374.62" x2="1943.85" y2="1364.82"/>
<line x1="2061.47" y1="1374.62" x2="2061.47" y2="1358.02"/>
<line x1="179.55" y1="1429.13" x2="189.55" y2="1429.13"/>
<line x1="179.55" y1="1374.62" x2="196.55" y2="1374.62"/>
<line x1="179.55" y1="1320.11" x2="189.55" y2="1320.11"/>
<line x1="179.55" y1="1265.60" x2="189.55" y2="1265.60"/>
<line x1="179.55" y1="1211.09" x2="189.55" y2="1211.09"/>
<line x1="179.55" y1="1156.58" x2="189.55" y2="1156.58"/>
<line x1="179.55" y1="1102.07" x2="196.55" y2="1102.07"/>
<line x1="179.55" y1="1047.56" x2="189.55" y2="1047.56"/>
<line x1="179.55" y1="993.05" x2="189.55" y2="993.05"/>
<line x1="179.55" y1="938.54" x2="189.55" y2="938.54"/>
<line x1="179.55" y1="884.03" x2="189.55" y2="884.03"/>
<line x1="179.55" y1="829.52" x2="196.55" y2="829.52"/>
<line x1="179.55" y1="775.01" x2="189.55" y2="775.01"/>
<line x1="179.55" y1="720.50" x2="189.55" y2="720.50"/>
<line x1="179.55" y1="665.99" x2="189.55" y2="665.99"/>
<line x1="179.55" y1="611.48" x2="189.55" y2="611.48"/>
<line x1="179.55" y1="556.97" x2="196.55" y2="556.97"/>
<line x1="179.55" y1="502.46" x2="189.55" y2="502.46"/>
<line x1="179.55" y1="447.95" x2="189.55" y2="447.95"/>
<line x1="179.55" y1="393.44" x2="189.55" y2="393.44"/>
<line x1="179.55" y1="338.93" x2="189.55" y2="338.93"/>
<line x1="179.55" y1="284.42" x2="196.55" y2="284.42"/>
<line x1="179.55" y1="229.91" x2="189.55" y2="229.91"/>
<path d="M179.55,1374.62 v-16.6 M179.55,1374.62 h17" stroke="#111" stroke-width="1.2"/>
</g>
<text class="sr" transform="translate(650.93,1442.8) scale(1,1.03)" font-size="59" text-anchor="middle" fill="#000">0.2</text>
<text class="sr" transform="translate(1121.41,1442.8) scale(1,1.03)" font-size="59" text-anchor="middle" fill="#000">0.4</text>
<text class="sr" transform="translate(1591.89,1442.8) scale(1,1.03)" font-size="59" text-anchor="middle" fill="#000">0.6</text>
<text class="sr" transform="translate(2062.37,1442.8) scale(1,1.03)" font-size="59" text-anchor="middle" fill="#000">0.8</text>
<text class="sr" transform="translate(166.40,1121.67) scale(1,1.03)" font-size="59" text-anchor="end" fill="#000">5</text>
<text class="sr" transform="translate(0,849.12) scale(1,1.03)" font-size="59" fill="#000"><tspan x="101.95">1</tspan><tspan x="131.80">0</tspan></text>
<text class="sr" transform="translate(0,576.57) scale(1,1.03)" font-size="59" fill="#000"><tspan x="101.95">1</tspan><tspan x="132.60">5</tspan></text>
<text class="sr" transform="translate(164.60,304.02) scale(1,1.03)" font-size="59" text-anchor="end" fill="#000">20</text>
<text class="sb" transform="translate(0,178.10) scale(1,1.035)" font-size="75" fill="#000"><tspan x="1.90" y="0.00" font-style="italic" font-size="72.5">z</tspan><tspan x="37.50" y="13.04" font-style="italic" font-size="52">h </tspan><tspan x="95.20" y="0.39" font-size="68">(</tspan><tspan x="121.00" y="0.00">GeV</tspan><tspan x="271.30" y="-29.86" font-size="48.4" stroke="#000" stroke-width="0.8">−</tspan><tspan x="301.15" y="-33.72" font-size="53.5">1</tspan><tspan x="334.90" y="0.39" font-size="68">)</tspan></text>
<g aria-label="c_B = 0">
<text class="sb" transform="translate(0,125.60) scale(1,1.035)" font-size="75" fill="#000"><tspan x="1120.20" y="0.00" font-style="italic" font-size="72.8">c</tspan><tspan x="1156.00" y="12.85" font-style="italic" font-size="53.5">B </tspan></text>
<text class="sb" transform="translate(1219.66,125.8) scale(1,0.871)" font-size="65.3" fill="#000" stroke="#000" stroke-width="2.8" stroke-linejoin="miter" paint-order="stroke">= </text>
<text class="sb" transform="translate(0,125.60) scale(1,1.035)" font-size="75" fill="#000"><tspan x="1280.40" y="0.00">0</tspan></text>
</g>
<text class="sb" transform="translate(0,1398.20) scale(1,1.035)" font-size="75" fill="#000"><tspan x="2133.00" y="0.00" font-size="68.5">μ </tspan><tspan x="2195.20" y="0.39" font-size="68">(</tspan><tspan x="2221.10" y="0.00">GeV</tspan><tspan x="2372.50" y="0.39" font-size="68">)</tspan></text>
<rect x="105.23" y="843.66" width="11.32" height="6.56" fill="#fff"/>
<rect x="122.21" y="843.66" width="10.85" height="6.56" fill="#fff"/>
<rect x="105.23" y="571.11" width="11.32" height="6.56" fill="#fff"/>
<rect x="122.21" y="571.11" width="10.85" height="6.56" fill="#fff"/>
<rect x="303.32" y="136.65" width="10.10" height="7.65" fill="#fff"/>
<rect x="321.20" y="136.65" width="9.40" height="7.65" fill="#fff"/>
<rect x="1018.90" y="393.20" width="104.90" height="81.60" fill="#fff" stroke="#000" stroke-width="3.8"/>
<text class="tr" x="1028.61" y="447.50" font-size="49.8" fill="#000" letter-spacing="-0.6">0.11</text>
<rect x="758.90" y="829.10" width="104.90" height="81.50" fill="#fff" stroke="#000" stroke-width="3.8"/>
<text class="tr" x="768.61" y="883.50" font-size="49.8" fill="#000" letter-spacing="-0.6">0.15</text>
<rect x="453.90" y="1223.20" width="84.20" height="81.40" fill="#fff" stroke="#000" stroke-width="3.8"/>
<text class="tr" x="463.61" y="1277.30" font-size="49.8" fill="#000" letter-spacing="-0.4">0.2</text>
<rect x="1009.40" y="1003.40" width="108.00" height="81.10" fill="#fff" stroke="#000" stroke-width="3.8"/>
<text class="tr" x="1018.41" y="1060.70" font-size="49.8" fill="#000" letter-spacing="-0.6">0.11</text>
<rect x="1158.40" y="1039.60" width="96.70" height="72.40" fill="#fff" stroke="#000" stroke-width="3.8"/>
<text class="tr" x="1165.97" y="1090.80" font-size="45.5" fill="#000" letter-spacing="-0.8">0.08</text>
<rect x="1376.90" y="1044.10" width="96.50" height="72.10" fill="#fff" stroke="#000" stroke-width="3.8"/>
<text class="tr" x="1385.57" y="1094.70" font-size="45.5" fill="#000" letter-spacing="-0.8">0.05</text>
<rect x="1554.50" y="1057.50" width="75.00" height="80.90" fill="#fff" stroke="#000" stroke-width="5.6"/>
<text class="tr" x="1571.60" y="1124.20" font-size="71" fill="#000">0</text>
<text class="sb" x="267.4" y="1154.8" font-size="113" fill="#c8327a">*</text>
<text class="sb" transform="translate(200.8,1172.2) scale(1,1.075)" font-size="53" letter-spacing="4.9" fill="#000">CEP</text>
</svg></body></html>
